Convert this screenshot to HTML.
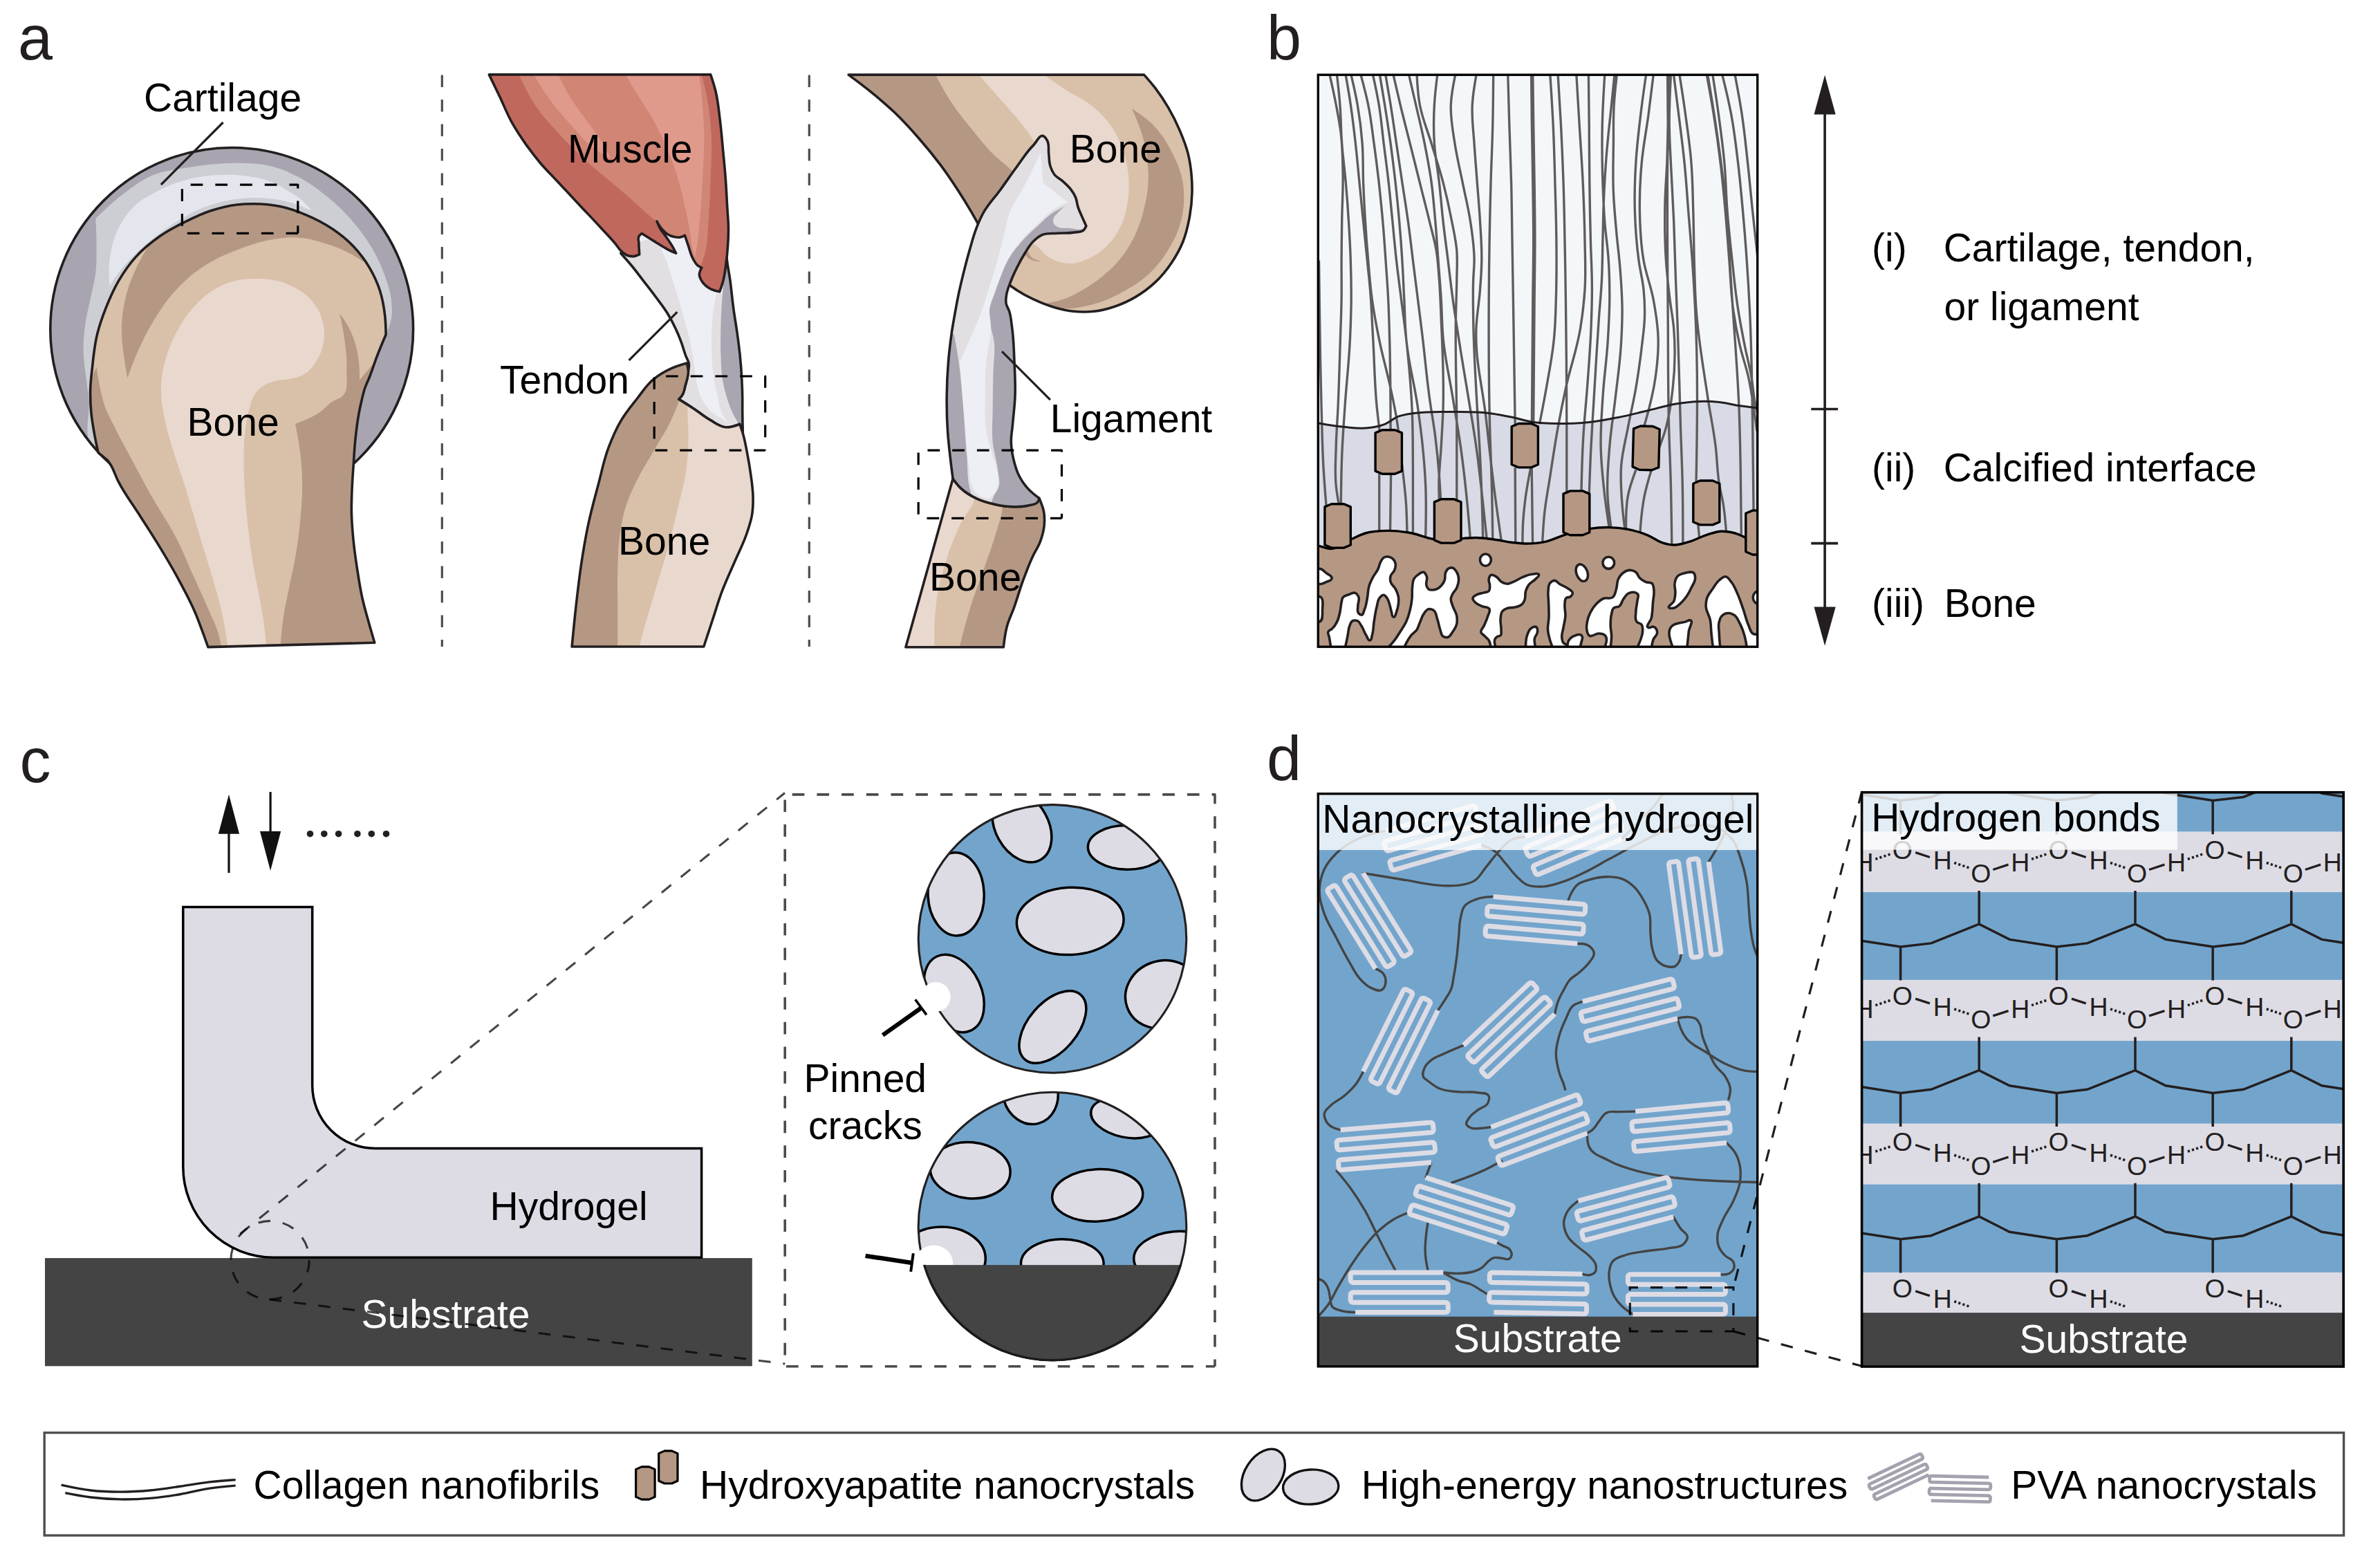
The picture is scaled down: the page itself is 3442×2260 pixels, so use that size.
<!DOCTYPE html>
<html><head><meta charset="utf-8"><title>Figure</title>
<style>
html,body{margin:0;padding:0;background:#fff;}
svg{display:block;}
text{font-family:"Liberation Sans",Arial,Helvetica,sans-serif;}
</style></head><body>
<svg width="3442" height="2260" viewBox="0 0 3442 2260">
<rect width="3442" height="2260" fill="#fff"/>
<g id="panel_a1">
<clipPath id="cartclip"><circle cx="335.2" cy="475.9" r="262.4"/></clipPath>
<clipPath id="boneclip1"><path d="M300.9 935.6 C298.9 930 296.9 924.3 294.6 918 C290.2 906.1 287 896.8 282 885.2 C274.8 868.4 267.9 855.9 259.3 839.8 C249.9 822.2 241.9 808.9 231.6 791.9 C221 774.4 212.2 761.3 201.3 744 C190.4 726.8 180.4 714.2 171.1 696.1 C166.7 687.6 165 680.2 160 672 C158.6 669.8 157.3 667.8 156 665.9 L142.1 654.5 C140.4 646.9 138.7 639.2 137.1 630.6 C134.9 618.9 133.2 609.7 132 597.8 C130.7 584.2 130.2 573.6 130.8 560 C131.2 550.2 132.2 542.7 133.3 533 C135.3 514.7 136.3 500.3 140.8 482.5 C144.3 468.6 148.1 458 153.4 444.7 C159 430.7 163.5 419.9 171.1 406.9 C179 393.4 185.8 383.2 196.3 371.6 C207.5 359.2 217.8 350.9 231.6 341.3 C243.6 333 253.8 327.7 266.9 321.2 C280.2 314.6 290.6 309.4 304.7 304.8 C318 300.5 328.6 297.7 342.5 296 C351.5 294.9 358.6 294.6 367.7 294.7 C381.4 294.8 392.1 295.7 405.5 298.5 C419.6 301.5 430.2 305.5 443.4 311.1 C457.6 317.1 468.4 322.6 481.2 331.3 C492.9 339.3 501.7 346.2 511.4 356.5 C520.7 366.4 527.2 375 534.1 386.7 C540.7 397.9 545.1 407.2 549.2 419.5 C553.5 432.7 555.3 443.5 556.8 457.3 C557.8 466.8 558 475.3 558.1 483.8 C553.5 494.6 548.9 505.4 544.2 517.8 C540.4 527.9 538.1 536 534.1 546 C531.9 551.4 529.7 555.5 527.8 561 C525.6 567.3 524.6 572.5 523 579 C521.4 585.7 520.3 591 519 597.8 C516.5 611.3 515.3 621.9 513.9 635.6 C512.6 647.8 512.2 657.4 511.4 669.7 C510.4 684.7 509.4 696.3 508.9 711.3 C508.5 722.2 508.2 730.6 508.4 741.5 C508.7 755.1 509.6 765.7 510.9 779.3 C512.4 794.8 514.1 806.8 516.5 822.2 C518.9 837.7 520.6 849.7 524 865 C527.1 878.8 530.3 889.3 534.1 902.9 C536.8 912.4 539.2 920.9 541.7 929.3 L300.9 935.6Z"/></clipPath>
<circle cx="335.2" cy="475.9" r="262.4" fill="#a9a5b0"/>
<g clip-path="url(#cartclip)">
<path d="M138.3 316.1 C151.5 303.3 164.6 290.5 181.2 278.3 C195 268.2 205.7 259.6 221.5 253.1 C237 246.8 250.4 245.9 266.9 243 C284.9 239.8 299.1 237.9 317.3 236.7 C330.9 235.8 341.5 235.3 355.1 236 C368.8 236.7 379.6 237.2 392.9 240.5 C407.2 244.1 417.8 248.8 430.8 255.6 C445.3 263.1 455.7 270.7 468.6 280.8 C483.3 292.3 494 302.2 506.4 316.1 C518.5 329.6 527.3 340.9 536.6 356.5 C545.3 371.1 551.2 383.2 556.8 399.3 C560.8 410.8 564.1 420 565.6 432.1 C566.9 442.9 567.6 451.6 565.6 462.3 C564 470.4 561.1 477.2 558.1 484 C539.9 496.2 521.7 508.5 500 520 C465.7 538.1 436 545.6 400 560 C364 574.4 336 585.6 300 600 C264 614.4 237.6 630.7 200 640 C178.7 645.3 159.1 660.7 140 650 C115.8 636.5 132 601.4 128.2 574 C126.8 563.8 125.7 555.8 124.5 545.6 C122.9 532 120.9 521.4 120.7 507.7 C120.5 494.1 121.4 483.4 123.2 469.9 C125 456.1 128.1 445.7 130.8 432.1 C133.5 418.5 136.7 408.1 138.3 394.3 C139.9 380.8 139.6 370.1 139.6 356.5 C139.6 341.9 139 329 138.3 316.1Z" fill="#cdced3"/>
<path d="M158.5 413.2 C157.7 401.4 157 389.7 158.5 376.6 C160.2 361.7 162.7 350 168.6 336.3 C174.6 322.4 180.8 311.9 191.3 301 C202.7 289.2 214.6 283.3 229.1 275.8 C242.1 269.1 252.8 264.7 266.9 260.7 C284.5 255.7 299 253.9 317.3 253.1 C330.9 252.5 341.6 252.6 355.1 254.4 C369 256.2 380 257.9 392.9 263.2 C402.5 267.1 409.3 271.6 418.1 277.1 C425.6 281.7 431.8 285 438.3 290.9 C443.3 295.4 447.1 300.1 450.9 304.8 C440.6 300.2 430.3 295.5 418.1 292.2 C400.5 287.4 386 285.8 367.7 285.9 C354 286 343.3 287.1 329.9 289.7 C316 292.4 305.3 295.6 292.1 301 C277.8 306.8 267.4 313 254.3 321.2 C240 330.1 229.5 338.1 216.5 348.9 C207.1 356.7 199.8 362.8 191.3 371.6 C184.6 378.5 179.6 384.2 173.6 391.8 C167.8 399.2 163.1 406.2 158.5 413.2Z" fill="#e4e6ee"/>
</g>
<circle cx="335.2" cy="475.9" r="262.4" fill="none" stroke="#231f20" stroke-width="3.6"/>
<path d="M300.9 935.6 C298.9 930 296.9 924.3 294.6 918 C290.2 906.1 287 896.8 282 885.2 C274.8 868.4 267.9 855.9 259.3 839.8 C249.9 822.2 241.9 808.9 231.6 791.9 C221 774.4 212.2 761.3 201.3 744 C190.4 726.8 180.4 714.2 171.1 696.1 C166.7 687.6 165 680.2 160 672 C158.6 669.8 157.3 667.8 156 665.9 L142.1 654.5 C140.4 646.9 138.7 639.2 137.1 630.6 C134.9 618.9 133.2 609.7 132 597.8 C130.7 584.2 130.2 573.6 130.8 560 C131.2 550.2 132.2 542.7 133.3 533 C135.3 514.7 136.3 500.3 140.8 482.5 C144.3 468.6 148.1 458 153.4 444.7 C159 430.7 163.5 419.9 171.1 406.9 C179 393.4 185.8 383.2 196.3 371.6 C207.5 359.2 217.8 350.9 231.6 341.3 C243.6 333 253.8 327.7 266.9 321.2 C280.2 314.6 290.6 309.4 304.7 304.8 C318 300.5 328.6 297.7 342.5 296 C351.5 294.9 358.6 294.6 367.7 294.7 C381.4 294.8 392.1 295.7 405.5 298.5 C419.6 301.5 430.2 305.5 443.4 311.1 C457.6 317.1 468.4 322.6 481.2 331.3 C492.9 339.3 501.7 346.2 511.4 356.5 C520.7 366.4 527.2 375 534.1 386.7 C540.7 397.9 545.1 407.2 549.2 419.5 C553.5 432.7 555.3 443.5 556.8 457.3 C557.8 466.8 558 475.3 558.1 483.8 C553.5 494.6 548.9 505.4 544.2 517.8 C540.4 527.9 538.1 536 534.1 546 C531.9 551.4 529.7 555.5 527.8 561 C525.6 567.3 524.6 572.5 523 579 C521.4 585.7 520.3 591 519 597.8 C516.5 611.3 515.3 621.9 513.9 635.6 C512.6 647.8 512.2 657.4 511.4 669.7 C510.4 684.7 509.4 696.3 508.9 711.3 C508.5 722.2 508.2 730.6 508.4 741.5 C508.7 755.1 509.6 765.7 510.9 779.3 C512.4 794.8 514.1 806.8 516.5 822.2 C518.9 837.7 520.6 849.7 524 865 C527.1 878.8 530.3 889.3 534.1 902.9 C536.8 912.4 539.2 920.9 541.7 929.3 L300.9 935.6Z" fill="#d9c0a9"/>
<g clip-path="url(#boneclip1)">
<path d="M221.5 345 C212.7 358.7 203.8 372.5 196.3 389.2 C189.6 404.1 184.9 416.1 181.2 432.1 C177.1 449.9 175.8 464.3 176.1 482.5 C176.3 496.2 178 506.7 179.9 520.3 C181.2 529.9 182.7 538.3 184.2 546.8 C187.9 536.6 191.5 526.5 196.3 515.3 C204.3 496.6 211 482.2 221.5 464.9 C232 447.7 240.6 434.3 254.3 419.5 C266.5 406.3 277.2 396.8 292.1 386.7 C308.9 375.3 323.6 368.9 342.5 361.5 C360.1 354.6 374.2 349.6 392.9 346.4 C406.4 344.1 417.1 342.5 430.8 343.4 C444.7 344.3 455.3 347.4 468.6 351.4 C480.7 355 490 358.4 501.3 364 C510.2 368.4 517.6 373.2 525 378 C531.2 373 537.4 368 540 360 C546.3 340.6 516.4 332.1 500 320 C480.6 305.6 463 297.3 440 290 C414.7 282 393.5 279.7 367 280 C342.6 280.3 323.1 282.3 300 290 C280.9 296.4 265.9 302.6 250 315 C238.3 324.2 229.9 334.6 221.5 345Z" fill="#b59884"/>
<path d="M491.3 453.5 C494.1 466.7 497 480 498.8 495.1 C500.4 508.6 502 519.3 501.3 532.9 C500.5 547.9 505.5 564.6 493.8 574 C489.9 577.2 485.5 577.6 481.2 580.2 C474.1 584.6 470.4 590.5 463.5 595.3 C451.6 603.7 439.3 608.3 427 612.9 C429.3 624.2 431.6 635.4 433.3 648.2 C435.7 666.3 436.9 680.5 437.1 698.7 C437.3 716.9 436.1 731 434.5 749.1 C432.9 767.3 431.1 781.5 428.2 799.5 C425.2 817.8 421.7 831.8 418.1 849.9 C415.4 863.5 412.8 874 410.6 887.7 C407.9 904.6 406.7 919.8 405.5 935 L560 935 C575 857.1 590 779.1 560 700 C551.4 677.4 534.2 663.8 530 640 C522.7 598.5 546.4 564.2 570 530 L537.9 527.9 L520.2 549.3 C520 535.8 519.8 522.4 516.5 507.7 C514 496.5 511.4 487.8 506.4 477.5 C502 468.3 496.6 460.9 491.3 453.5Z" fill="#b59884"/>
<path d="M139.6 530.4 C141 539.9 142.4 549.4 144.6 560 C146.5 569.1 147.9 576.3 150.9 585.2 C155 597.5 160.3 606.3 166 618 C174.5 635.5 182.1 648.7 191.3 665.9 C202 685.9 210.3 701.5 221.5 721.3 C233 741.5 243.6 756.2 254.3 776.8 C264.4 796.3 270.5 812.3 279.5 832.3 C287.7 850.4 294.3 864.4 302.2 882.7 C306.8 893.5 311.3 901.7 314.8 912.9 C317.8 922.5 319.5 931.2 321.1 940 L290 940 C278.6 907.4 267.1 874.8 250 840 C231.5 802.3 213.2 775 190 740 C172.9 714.2 153 698.1 140 670 C129 646.2 120 626.2 120 600 C120 574 129.8 552.2 139.6 530.4Z" fill="#b59884"/>
<path d="M367.7 403.1 C349.1 403.5 334 406.3 317.3 414.5 C301.7 422.2 291.2 431.8 279.5 444.7 C268.5 456.8 261.8 468 254.3 482.5 C247.6 495.5 243.1 506.2 239.2 520.3 C234.9 536 232.9 548.7 232.9 565 C232.9 581.5 235.9 594.2 239.2 610.4 C242.6 627 246.9 639.6 251.8 655.8 C256.8 672.3 261.7 684.8 266.9 701.2 C272.6 719.3 276.6 733.5 282 751.6 C287.4 769.7 291.6 783.9 297.1 802 C302.6 820.1 307.3 834.1 312.3 852.4 C316.2 866.9 319.4 878.1 322.4 892.8 C325.9 909.6 327.9 924.8 329.9 940 L385.4 940 C384.5 927.3 383.5 914.5 381.6 900.3 C380.1 889.4 378.4 881 376.5 870.1 C373.6 853.7 370.5 841.1 367.7 824.7 C364.6 806.6 362.5 792.5 360.2 774.3 C357.9 756.2 356.5 742.1 355.1 723.9 C353.7 705.7 352.7 691.6 352.6 673.4 C352.5 658 352.3 645.9 353.9 630.6 C355.3 616.9 356.3 606 360.2 592.8 C363 583.4 364.1 575.2 370.2 567.6 C374.3 562.5 378.3 559.2 384 556 C389.3 553 394.1 551.9 400 550.5 C406.4 549 411.7 549.5 418.1 548.1 C426.5 546.3 433.6 545.2 440.8 540.5 C448.9 535.3 453.5 528.6 458.5 520.3 C464.4 510.5 467.4 501.5 468.6 490.1 C469.6 480.1 468.8 471.9 466 462.3 C462.5 450.2 457 441.3 448.4 432.1 C439.5 422.5 430.1 417.2 418.1 411.9 C401.3 404.5 386.1 402.7 367.7 403.1Z" fill="#e9d8cd"/>
</g>
<path d="M300.9 935.6 C298.9 930 296.9 924.3 294.6 918 C290.2 906.1 287 896.8 282 885.2 C274.8 868.4 267.9 855.9 259.3 839.8 C249.9 822.2 241.9 808.9 231.6 791.9 C221 774.4 212.2 761.3 201.3 744 C190.4 726.8 180.4 714.2 171.1 696.1 C166.7 687.6 165 680.2 160 672 C158.6 669.8 157.3 667.8 156 665.9 L142.1 654.5 C140.4 646.9 138.7 639.2 137.1 630.6 C134.9 618.9 133.2 609.7 132 597.8 C130.7 584.2 130.2 573.6 130.8 560 C131.2 550.2 132.2 542.7 133.3 533 C135.3 514.7 136.3 500.3 140.8 482.5 C144.3 468.6 148.1 458 153.4 444.7 C159 430.7 163.5 419.9 171.1 406.9 C179 393.4 185.8 383.2 196.3 371.6 C207.5 359.2 217.8 350.9 231.6 341.3 C243.6 333 253.8 327.7 266.9 321.2 C280.2 314.6 290.6 309.4 304.7 304.8 C318 300.5 328.6 297.7 342.5 296 C351.5 294.9 358.6 294.6 367.7 294.7 C381.4 294.8 392.1 295.7 405.5 298.5 C419.6 301.5 430.2 305.5 443.4 311.1 C457.6 317.1 468.4 322.6 481.2 331.3 C492.9 339.3 501.7 346.2 511.4 356.5 C520.7 366.4 527.2 375 534.1 386.7 C540.7 397.9 545.1 407.2 549.2 419.5 C553.5 432.7 555.3 443.5 556.8 457.3 C557.8 466.8 558 475.3 558.1 483.8 C553.5 494.6 548.9 505.4 544.2 517.8 C540.4 527.9 538.1 536 534.1 546 C531.9 551.4 529.7 555.5 527.8 561 C525.6 567.3 524.6 572.5 523 579 C521.4 585.7 520.3 591 519 597.8 C516.5 611.3 515.3 621.9 513.9 635.6 C512.6 647.8 512.2 657.4 511.4 669.7 C510.4 684.7 509.4 696.3 508.9 711.3 C508.5 722.2 508.2 730.6 508.4 741.5 C508.7 755.1 509.6 765.7 510.9 779.3 C512.4 794.8 514.1 806.8 516.5 822.2 C518.9 837.7 520.6 849.7 524 865 C527.1 878.8 530.3 889.3 534.1 902.9 C536.8 912.4 539.2 920.9 541.7 929.3 L300.9 935.6Z" fill="none" stroke="#231f20" stroke-width="3.6" stroke-linejoin="round"/>
<path d="M263.4 267.2 H430.8 V337.3" fill="none" stroke="#000" stroke-width="3.2" stroke-dasharray="17.7 18" stroke-dashoffset="23.4" stroke-linejoin="round"/><path d="M263.4 267.2 V337.3 H430.8" fill="none" stroke="#000" stroke-width="3.2" stroke-dasharray="17.7 18" stroke-dashoffset="29.6" stroke-linejoin="round"/>
<line x1="322.6" y1="177" x2="232.9" y2="267" stroke="#231f20" stroke-width="3.2"/>
<text x="208" y="161" font-size="57" fill="#000" text-anchor="start" >Cartilage</text>
<text x="270.5" y="630.3" font-size="57" fill="#000" text-anchor="start" >Bone</text>
</g>
<g id="panel_a2">
<line x1="639.3" y1="108.5" x2="639.3" y2="935" stroke="#4d4d4d" stroke-width="3.2" stroke-dasharray="17.6 17.9"/>
<line x1="1170.3" y1="108.5" x2="1170.3" y2="935" stroke="#4d4d4d" stroke-width="3.2" stroke-dasharray="17.6 17.9"/>
<clipPath id="tendclip"><path d="M897.8 366.2 C903.3 372.3 908.8 378.4 914.6 385.5 C920.9 393.2 925.4 399.5 931.5 407.4 C937.6 415.3 942.4 421.3 948.3 429.3 C954.5 437.7 959.6 443.9 965.1 452.8 C969.8 460.4 973.1 466.6 976.9 474.7 C980.3 481.8 982.6 487.5 985.3 494.9 C988 502.1 989.2 508 992 515.1 C993.4 518.8 995.5 521.3 996.2 525.2 C996.9 529.4 995.9 532.8 995.4 537 C994.5 544.4 993.2 550 991.2 557.2 C989.7 562.7 989.5 567.7 986.1 572.3 C984.7 574.2 983.2 575.7 981.6 577.1 C988.7 581.5 995.8 586 1003.7 591.2 C1012.3 596.9 1018.2 602.4 1027.2 607.4 C1034.8 611.7 1040.6 616.9 1049.3 617.7 C1056.9 618.4 1063.4 615.8 1069.9 613.3 L1074.3 626 C1074 615.4 1073.8 604.9 1073.7 593 C1073.7 586.2 1073.8 580.8 1073.7 574 C1073.6 564.9 1073.3 557.9 1072.8 548.8 C1072.2 536.7 1071.5 527.2 1070.3 515.1 C1069.1 503 1067.8 493.6 1066.1 481.5 C1064.4 469.3 1062.7 460 1061 447.8 C1058.9 432.7 1058 420.8 1056 405.7 C1054.3 393 1051.6 383.2 1050.9 370.4 C1050.1 355.9 1051.5 342.9 1052.9 330 L955 325 L926 332 L897.8 366.2Z"/></clipPath>
<path d="M897.8 366.2 C903.3 372.3 908.8 378.4 914.6 385.5 C920.9 393.2 925.4 399.5 931.5 407.4 C937.6 415.3 942.4 421.3 948.3 429.3 C954.5 437.7 959.6 443.9 965.1 452.8 C969.8 460.4 973.1 466.6 976.9 474.7 C980.3 481.8 982.6 487.5 985.3 494.9 C988 502.1 989.2 508 992 515.1 C993.4 518.8 995.5 521.3 996.2 525.2 C996.9 529.4 995.9 532.8 995.4 537 C994.5 544.4 993.2 550 991.2 557.2 C989.7 562.7 989.5 567.7 986.1 572.3 C984.7 574.2 983.2 575.7 981.6 577.1 C988.7 581.5 995.8 586 1003.7 591.2 C1012.3 596.9 1018.2 602.4 1027.2 607.4 C1034.8 611.7 1040.6 616.9 1049.3 617.7 C1056.9 618.4 1063.4 615.8 1069.9 613.3 L1074.3 626 C1074 615.4 1073.8 604.9 1073.7 593 C1073.7 586.2 1073.8 580.8 1073.7 574 C1073.6 564.9 1073.3 557.9 1072.8 548.8 C1072.2 536.7 1071.5 527.2 1070.3 515.1 C1069.1 503 1067.8 493.6 1066.1 481.5 C1064.4 469.3 1062.7 460 1061 447.8 C1058.9 432.7 1058 420.8 1056 405.7 C1054.3 393 1051.6 383.2 1050.9 370.4 C1050.1 355.9 1051.5 342.9 1052.9 330 L955 325 L926 332 L897.8 366.2Z" fill="#eeeff5"/>
<g clip-path="url(#tendclip)">
<path d="M890 360 L956.7 340 C956.2 346 955.6 352 956.7 358.6 C958.1 366.9 962.3 372.5 965.1 380.5 C968.5 390.1 970.5 397.7 973.5 407.4 C976.5 417.1 979 424.6 981.9 434.3 C985.1 445.2 987.4 453.7 990.4 464.6 C992.9 473.7 995 480.7 997.1 489.9 C999.2 498.9 1000.6 506 1002.1 515.1 C1003.6 524.2 1004 531.3 1005.5 540.4 C1007 549.5 1007.4 556.9 1010.5 565.6 C1013.2 573.3 1015.8 579.2 1020.6 585.8 C1024.1 590.7 1027.4 594.1 1032 598 C1037.2 602.4 1043 603.4 1048 608 C1053.5 613.1 1056.7 619 1060 625 L980 625 C975.3 604 970.6 583.1 975 560 C977.9 544.9 988.6 535.3 990 520 C992.4 492.7 974.4 473.4 960 450 C947.9 430.4 934.1 418.2 920 400 C909 385.7 899.5 372.9 890 360Z" fill="#e1dfe2"/>
<path d="M1036 424.2 C1034 434.4 1031.9 444.6 1030.7 456.2 C1029.4 468.3 1029.2 477.8 1029.1 489.9 C1029 502 1029.1 511.4 1029.9 523.5 C1030.5 532.6 1031 539.8 1032.4 548.8 C1033.8 557.3 1035.6 563.9 1037.5 572.3 C1039.2 579.8 1039.9 585.8 1042.5 593 C1045.1 600.2 1048.6 606.1 1052 612 L1075 625 L1075 424 L1036 424.2Z" fill="#e1dfe2"/>
<path d="M1050.9 372 C1049.1 385.5 1047.3 398.9 1045.9 414.1 C1044.8 426.2 1044.1 435.7 1043.4 447.8 C1042.7 459.9 1042.4 469.4 1042.2 481.5 C1042 493.6 1042 503 1042.5 515.1 C1043 527.3 1043 536.8 1045 548.8 C1046.5 558 1048.2 565.1 1050.9 574 C1053 581 1054.8 586.3 1057.7 593 C1061.1 600.9 1065.1 607.4 1069 614 L1080 630 L1080 372 L1050.9 372Z" fill="#aaa6b1"/>
</g>
<path d="M897.8 366.2 C903.3 372.3 908.8 378.4 914.6 385.5 C920.9 393.2 925.4 399.5 931.5 407.4 C937.6 415.3 942.4 421.3 948.3 429.3 C954.5 437.7 959.6 443.9 965.1 452.8 C969.8 460.4 973.1 466.6 976.9 474.7 C980.3 481.8 982.6 487.5 985.3 494.9 C988 502.1 989.2 508 992 515.1 C993.4 518.8 995.5 521.3 996.2 525.2 C996.9 529.4 995.9 532.8 995.4 537 C994.5 544.4 993.2 550 991.2 557.2 C989.7 562.7 989.5 567.7 986.1 572.3 C984.7 574.2 983.2 575.7 981.6 577.1 C988.7 581.5 995.8 586 1003.7 591.2 C1012.3 596.9 1018.2 602.4 1027.2 607.4 C1034.8 611.7 1040.6 616.9 1049.3 617.7 C1056.9 618.4 1063.4 615.8 1069.9 613.3 L1074.3 626 C1074 615.4 1073.8 604.9 1073.7 593 C1073.7 586.2 1073.8 580.8 1073.7 574 C1073.6 564.9 1073.3 557.9 1072.8 548.8 C1072.2 536.7 1071.5 527.2 1070.3 515.1 C1069.1 503 1067.8 493.6 1066.1 481.5 C1064.4 469.3 1062.7 460 1061 447.8 C1058.9 432.7 1058 420.8 1056 405.7 C1054.3 393 1051.6 383.2 1050.9 370.4 C1050.1 355.9 1051.5 342.9 1052.9 330 L955 325 L926 332 L897.8 366.2Z" fill="none" stroke="#231f20" stroke-width="3.6" stroke-linejoin="round"/>
<clipPath id="musclip"><path d="M707.3 107.9 C712 117.6 716.7 127.3 722 138.3 C728.9 152.6 733.1 164.4 740.9 178.2 C747.1 189.2 752.6 197.3 759.8 207.6 C766.9 217.8 772.8 225.5 780.8 235 C789.4 245.3 797 252.5 806.1 262.3 C817.4 274.4 826.3 283.8 837.6 295.9 C848.9 308 857.9 317.3 869.1 329.5 C876.7 337.8 882.9 344 890.1 352.6 C893.2 356.3 894.9 359.9 898.5 363.1 C901.5 365.8 904 368.2 907.9 369.5 C911.4 370.7 914.4 371 918 370.4 C920.5 370 922.6 368.9 924.7 367.9 C924.4 362.8 924 357.7 923.9 351.9 C923.8 348.3 922.2 345 923.9 341.8 C924.9 339.9 926.5 338.8 928.1 337.6 C934.5 341.7 941 345.7 948.3 350.2 C954.3 353.9 958.8 357 965.1 360.3 C969.5 362.6 973.6 364.4 977.7 366.2 C975.9 362.6 974.1 359.1 971.8 355.2 C968.5 349.6 965.5 345.5 961.7 340.1 C959.3 336.7 957.1 334.4 955 330.8 C952.8 327.1 951.4 323.6 950 320 C952 323.7 953.9 327.4 957 331 C959.6 334 961.8 336.3 965.1 338.4 C968.4 340.5 971.3 341.8 975.2 342.6 C978.2 343.2 980.6 343.6 983.6 343.1 C986.2 342.6 988.3 341.5 990.4 340.4 C992 345.1 993.6 349.9 995.4 355.2 C997.7 361.9 998.7 367.6 1002.1 373.8 C1004.2 377.6 1005.5 381 1008.9 383.8 C1010.8 385.3 1012.8 386.3 1014.8 387.2 C1013 390.3 1011.3 393.5 1011.4 397.3 C1011.5 401.2 1013.4 404.1 1015.6 407.4 C1018.3 411.5 1021.5 414.1 1025.7 416.7 C1030.6 419.7 1035.7 420.7 1040.8 421.7 C1042.6 416.6 1044.4 411.6 1045.9 405.7 C1048.2 396.8 1048.9 389.6 1050.1 380.5 C1051.3 371.4 1052 364.3 1052.6 355.2 C1053.2 346.7 1053.5 340.1 1053.5 331.6 C1053.5 320.2 1052.4 311.4 1051.8 300 C1050.9 284.9 1050.4 273.1 1049.3 258 C1048.2 242.9 1046.9 231.1 1045.5 216 C1044.1 200.9 1043.2 189.1 1041.3 174 C1039.4 158.8 1038.6 146.9 1035 132 C1032.8 123.2 1030.3 115.5 1027.7 107.9 L707.3 107.9Z"/></clipPath>
<path d="M707.3 107.9 C712 117.6 716.7 127.3 722 138.3 C728.9 152.6 733.1 164.4 740.9 178.2 C747.1 189.2 752.6 197.3 759.8 207.6 C766.9 217.8 772.8 225.5 780.8 235 C789.4 245.3 797 252.5 806.1 262.3 C817.4 274.4 826.3 283.8 837.6 295.9 C848.9 308 857.9 317.3 869.1 329.5 C876.7 337.8 882.9 344 890.1 352.6 C893.2 356.3 894.9 359.9 898.5 363.1 C901.5 365.8 904 368.2 907.9 369.5 C911.4 370.7 914.4 371 918 370.4 C920.5 370 922.6 368.9 924.7 367.9 C924.4 362.8 924 357.7 923.9 351.9 C923.8 348.3 922.2 345 923.9 341.8 C924.9 339.9 926.5 338.8 928.1 337.6 C934.5 341.7 941 345.7 948.3 350.2 C954.3 353.9 958.8 357 965.1 360.3 C969.5 362.6 973.6 364.4 977.7 366.2 C975.9 362.6 974.1 359.1 971.8 355.2 C968.5 349.6 965.5 345.5 961.7 340.1 C959.3 336.7 957.1 334.4 955 330.8 C952.8 327.1 951.4 323.6 950 320 C952 323.7 953.9 327.4 957 331 C959.6 334 961.8 336.3 965.1 338.4 C968.4 340.5 971.3 341.8 975.2 342.6 C978.2 343.2 980.6 343.6 983.6 343.1 C986.2 342.6 988.3 341.5 990.4 340.4 C992 345.1 993.6 349.9 995.4 355.2 C997.7 361.9 998.7 367.6 1002.1 373.8 C1004.2 377.6 1005.5 381 1008.9 383.8 C1010.8 385.3 1012.8 386.3 1014.8 387.2 C1013 390.3 1011.3 393.5 1011.4 397.3 C1011.5 401.2 1013.4 404.1 1015.6 407.4 C1018.3 411.5 1021.5 414.1 1025.7 416.7 C1030.6 419.7 1035.7 420.7 1040.8 421.7 C1042.6 416.6 1044.4 411.6 1045.9 405.7 C1048.2 396.8 1048.9 389.6 1050.1 380.5 C1051.3 371.4 1052 364.3 1052.6 355.2 C1053.2 346.7 1053.5 340.1 1053.5 331.6 C1053.5 320.2 1052.4 311.4 1051.8 300 C1050.9 284.9 1050.4 273.1 1049.3 258 C1048.2 242.9 1046.9 231.1 1045.5 216 C1044.1 200.9 1043.2 189.1 1041.3 174 C1039.4 158.8 1038.6 146.9 1035 132 C1032.8 123.2 1030.3 115.5 1027.7 107.9 L707.3 107.9Z" fill="#c1685e"/>
<g clip-path="url(#musclip)">
<path d="M749.3 105 C756.4 120.9 763.6 136.8 774.5 153 C784.4 167.7 794.2 177.7 806.1 190.8 C820.5 206.7 832.3 218.4 848.1 232.9 C862.7 246.3 875.1 255.7 890.1 268.6 C901.5 278.4 910.4 285.9 921.6 295.9 C929.2 302.6 934.6 308.5 942.6 314.8 C945.6 317.1 948.3 319.1 951 321.1 C953.3 326 955.7 330.9 960 335 C967 341.7 975.6 347.3 985 345 C987.7 344.3 989.8 343.2 992 342 C992.7 355 993.3 368 1003 377 C1006.4 380.2 1010.2 382.2 1014 384.1 C1016.3 377.4 1018.5 370.8 1020.3 363.1 C1023.7 348.3 1023.3 336.2 1024.5 321.1 C1026.3 298.5 1026.9 280.8 1027.7 258.1 C1028.5 235.4 1029.9 217.7 1028.7 195 C1027.9 179.8 1026.8 168 1024.5 153 C1021.8 135.5 1017.9 120.3 1014 105 L749.3 105Z" fill="#d08575"/>
<path d="M770.3 105 C777.9 118 785.5 130.9 795.5 144.6 C805.9 158.9 815.1 169.3 827.1 182.4 C838 194.2 845.8 204.2 858.6 213.9 C867.1 220.3 875.5 224.9 883.8 229.5 C879.3 221 874.8 212.5 869.1 203.4 C862.2 192.4 855.7 184.6 848.1 174 C840.5 163.4 834 155.6 827.1 144.6 C818.5 130.9 812.3 118 806.1 105 L770.3 105Z" fill="#e09a8c"/>
<path d="M902.7 105 C908.7 115 914.7 125 921.6 136.2 C929.1 148.4 935.6 157.4 942.6 169.8 C950.9 184.5 956.9 196.3 963.6 211.8 C970.6 228.1 975.3 241.1 980.4 258.1 C984.9 273 987.5 284.9 990.9 300.1 C993.4 311.4 995.2 320.2 997.2 331.6 C998.9 341.4 999.3 349.2 1001.4 358.9 C1002.4 363.6 1003.5 367.8 1004.6 372 C1005.3 369.2 1006 366.3 1006.7 363.1 C1009.9 348.2 1010.4 336.3 1011.9 321.1 C1014.2 298.5 1015 280.8 1016.1 258.1 C1017.2 235.4 1018.6 217.7 1018.2 195 C1017.9 179.9 1017.3 168.1 1016.1 153 C1014.8 135.7 1012.8 120.3 1010.9 105 L902.7 105Z" fill="#e09a8c"/>
</g>
<path d="M707.3 107.9 C712 117.6 716.7 127.3 722 138.3 C728.9 152.6 733.1 164.4 740.9 178.2 C747.1 189.2 752.6 197.3 759.8 207.6 C766.9 217.8 772.8 225.5 780.8 235 C789.4 245.3 797 252.5 806.1 262.3 C817.4 274.4 826.3 283.8 837.6 295.9 C848.9 308 857.9 317.3 869.1 329.5 C876.7 337.8 882.9 344 890.1 352.6 C893.2 356.3 894.9 359.9 898.5 363.1 C901.5 365.8 904 368.2 907.9 369.5 C911.4 370.7 914.4 371 918 370.4 C920.5 370 922.6 368.9 924.7 367.9 C924.4 362.8 924 357.7 923.9 351.9 C923.8 348.3 922.2 345 923.9 341.8 C924.9 339.9 926.5 338.8 928.1 337.6 C934.5 341.7 941 345.7 948.3 350.2 C954.3 353.9 958.8 357 965.1 360.3 C969.5 362.6 973.6 364.4 977.7 366.2 C975.9 362.6 974.1 359.1 971.8 355.2 C968.5 349.6 965.5 345.5 961.7 340.1 C959.3 336.7 957.1 334.4 955 330.8 C952.8 327.1 951.4 323.6 950 320 C952 323.7 953.9 327.4 957 331 C959.6 334 961.8 336.3 965.1 338.4 C968.4 340.5 971.3 341.8 975.2 342.6 C978.2 343.2 980.6 343.6 983.6 343.1 C986.2 342.6 988.3 341.5 990.4 340.4 C992 345.1 993.6 349.9 995.4 355.2 C997.7 361.9 998.7 367.6 1002.1 373.8 C1004.2 377.6 1005.5 381 1008.9 383.8 C1010.8 385.3 1012.8 386.3 1014.8 387.2 C1013 390.3 1011.3 393.5 1011.4 397.3 C1011.5 401.2 1013.4 404.1 1015.6 407.4 C1018.3 411.5 1021.5 414.1 1025.7 416.7 C1030.6 419.7 1035.7 420.7 1040.8 421.7 C1042.6 416.6 1044.4 411.6 1045.9 405.7 C1048.2 396.8 1048.9 389.6 1050.1 380.5 C1051.3 371.4 1052 364.3 1052.6 355.2 C1053.2 346.7 1053.5 340.1 1053.5 331.6 C1053.5 320.2 1052.4 311.4 1051.8 300 C1050.9 284.9 1050.4 273.1 1049.3 258 C1048.2 242.9 1046.9 231.1 1045.5 216 C1044.1 200.9 1043.2 189.1 1041.3 174 C1039.4 158.8 1038.6 146.9 1035 132 C1032.8 123.2 1030.3 115.5 1027.7 107.9 L707.3 107.9Z" fill="none" stroke="#231f20" stroke-width="3.6" stroke-linejoin="round"/>
<clipPath id="boneclip2"><path d="M993.4 525 C985.2 527.3 977 529.7 968.4 533.8 C959.4 538.1 952.5 542.2 944.8 548.6 C934.7 557 929.4 566.2 921.3 576.5 C912.4 587.8 905 596.5 897.7 608.9 C890 622 885.5 633 880.1 647.2 C873.1 665.7 870.5 681 865.4 700.1 C859.8 721.2 855.1 737.6 850.6 759 C846.1 780.1 843.5 796.6 840.3 817.9 C837.2 839 835.4 855.5 833 876.7 C830.6 897.7 828.9 916.3 827.1 935 L1017.8 935 C1021.8 922.9 1025.7 910.9 1030.2 897.3 C1035.5 881.4 1038.9 868.8 1044.9 853.2 C1050.7 838.1 1056.2 826.8 1062.6 812 C1069 797.2 1075.1 786.1 1080.2 770.8 C1083.3 761.4 1086 754.1 1087.6 744.3 C1089.1 734.9 1089.2 727.4 1089 717.8 C1088.8 707.2 1087.5 698.9 1086.1 688.4 C1084.4 675.6 1082.7 665.7 1080.2 653.1 C1078.3 643.5 1077.1 636 1074.3 626.6 C1072.9 621.8 1071.4 617.5 1069.9 613.3 C1063.4 615.8 1056.9 618.4 1049.3 617.7 C1040.6 616.9 1034.8 611.7 1027.2 607.4 C1018.2 602.4 1012.3 596.9 1003.7 591.2 C995.8 586 988.7 581.5 981.6 577.1 C983.2 575.7 984.7 574.2 986.1 572.3 C989.5 567.7 989.7 562.7 991.2 557.2 C993.2 550 995.6 544.4 995.4 537 C995.3 532.6 994.3 528.8 993.4 525Z"/></clipPath>
<path d="M993.4 525 C985.2 527.3 977 529.7 968.4 533.8 C959.4 538.1 952.5 542.2 944.8 548.6 C934.7 557 929.4 566.2 921.3 576.5 C912.4 587.8 905 596.5 897.7 608.9 C890 622 885.5 633 880.1 647.2 C873.1 665.7 870.5 681 865.4 700.1 C859.8 721.2 855.1 737.6 850.6 759 C846.1 780.1 843.5 796.6 840.3 817.9 C837.2 839 835.4 855.5 833 876.7 C830.6 897.7 828.9 916.3 827.1 935 L1017.8 935 C1021.8 922.9 1025.7 910.9 1030.2 897.3 C1035.5 881.4 1038.9 868.8 1044.9 853.2 C1050.7 838.1 1056.2 826.8 1062.6 812 C1069 797.2 1075.1 786.1 1080.2 770.8 C1083.3 761.4 1086 754.1 1087.6 744.3 C1089.1 734.9 1089.2 727.4 1089 717.8 C1088.8 707.2 1087.5 698.9 1086.1 688.4 C1084.4 675.6 1082.7 665.7 1080.2 653.1 C1078.3 643.5 1077.1 636 1074.3 626.6 C1072.9 621.8 1071.4 617.5 1069.9 613.3 C1063.4 615.8 1056.9 618.4 1049.3 617.7 C1040.6 616.9 1034.8 611.7 1027.2 607.4 C1018.2 602.4 1012.3 596.9 1003.7 591.2 C995.8 586 988.7 581.5 981.6 577.1 C983.2 575.7 984.7 574.2 986.1 572.3 C989.5 567.7 989.7 562.7 991.2 557.2 C993.2 550 995.6 544.4 995.4 537 C995.3 532.6 994.3 528.8 993.4 525Z" fill="#e9d8cd"/>
<g clip-path="url(#boneclip2)">
<path d="M1000 520 C997.3 541.8 994.7 563.6 994.3 588.3 C994 604.2 995.8 616.5 995.5 632.4 C995.2 650.5 994.5 664.6 991.9 682.5 C989.1 701.8 984.6 716.5 980.1 735.5 C975.1 756.7 971.2 773.3 965.4 794.3 C959.6 815.6 954.1 832 947.8 853.2 C942.5 871.2 938.3 885.2 933.1 903.2 C929.3 916.4 926.1 928.2 922.8 940 L820 940 L820 520 L1000 520Z" fill="#d9c0a9"/>
<path d="M1000 520 C994.8 539.7 989.7 559.5 981.6 580.9 C978.2 590 975.4 597.1 971.3 606 C963.2 623.7 954.4 636.2 944.8 653.1 C936.4 668 928.8 679 921.3 694.3 C914.7 707.7 909.6 718.2 905.1 732.5 C901.5 743.9 899.7 753.1 897.7 764.9 C894.1 785.9 894.1 802.6 893.3 823.8 C892.5 845 893.3 861.4 893.3 882.6 C893.3 903.3 893.3 921.6 893.3 940 L820 940 L820 520 L1000 520Z" fill="#b59884"/>
</g>
<path d="M993.4 525 C985.2 527.3 977 529.7 968.4 533.8 C959.4 538.1 952.5 542.2 944.8 548.6 C934.7 557 929.4 566.2 921.3 576.5 C912.4 587.8 905 596.5 897.7 608.9 C890 622 885.5 633 880.1 647.2 C873.1 665.7 870.5 681 865.4 700.1 C859.8 721.2 855.1 737.6 850.6 759 C846.1 780.1 843.5 796.6 840.3 817.9 C837.2 839 835.4 855.5 833 876.7 C830.6 897.7 828.9 916.3 827.1 935 L1017.8 935 C1021.8 922.9 1025.7 910.9 1030.2 897.3 C1035.5 881.4 1038.9 868.8 1044.9 853.2 C1050.7 838.1 1056.2 826.8 1062.6 812 C1069 797.2 1075.1 786.1 1080.2 770.8 C1083.3 761.4 1086 754.1 1087.6 744.3 C1089.1 734.9 1089.2 727.4 1089 717.8 C1088.8 707.2 1087.5 698.9 1086.1 688.4 C1084.4 675.6 1082.7 665.7 1080.2 653.1 C1078.3 643.5 1077.1 636 1074.3 626.6 C1072.9 621.8 1071.4 617.5 1069.9 613.3 C1063.4 615.8 1056.9 618.4 1049.3 617.7 C1040.6 616.9 1034.8 611.7 1027.2 607.4 C1018.2 602.4 1012.3 596.9 1003.7 591.2 C995.8 586 988.7 581.5 981.6 577.1 C983.2 575.7 984.7 574.2 986.1 572.3 C989.5 567.7 989.7 562.7 991.2 557.2 C993.2 550 995.6 544.4 995.4 537 C995.3 532.6 994.3 528.8 993.4 525Z" fill="none" stroke="#231f20" stroke-width="3.6" stroke-linejoin="round"/>
<path d="M946.2 544 H1106.7 V651.2" fill="none" stroke="#000" stroke-width="3.2" stroke-dasharray="17.7 18" stroke-dashoffset="18.9" stroke-linejoin="round"/><path d="M946.2 544 V651.2 H1106.7" fill="none" stroke="#000" stroke-width="3.2" stroke-dasharray="17.7 18" stroke-dashoffset="34.3" stroke-linejoin="round"/>
<line x1="979.4" y1="451.2" x2="909.6" y2="521" stroke="#231f20" stroke-width="3.2"/>
<text x="821" y="235" font-size="57" fill="#000" text-anchor="start" >Muscle</text>
<text x="723" y="569" font-size="57" fill="#000" text-anchor="start" >Tendon</text>
<text x="894" y="801.7" font-size="57" fill="#000" text-anchor="start" >Bone</text>
</g>
<g id="panel_a3">
<clipPath id="ubclip"><path d="M1227.1 108.1 C1237.4 115.7 1247.7 123.3 1258.9 132.4 C1272 143 1282.1 151.4 1294.2 163 C1307.6 175.9 1317.3 186.7 1329.5 200.7 C1341 213.9 1349.6 224.4 1360.1 238.4 C1369.9 251.6 1377.1 262.2 1386 276 C1393.1 286.9 1398.4 295.5 1404.9 306.7 C1408.8 313.4 1411.9 318.6 1415.5 325.5 C1419.1 332.4 1422.1 338.7 1425 345 L1459 411.4 C1462.7 414.1 1466.4 416.9 1470.8 419.7 C1478.9 425 1485.6 428.5 1494.4 432.6 C1505.1 437.6 1513.7 441.1 1525 444.4 C1535 447.3 1542.9 449.2 1553.2 450.3 C1563.3 451.3 1571.4 451.4 1581.5 450.3 C1592.7 449.1 1601.4 446.8 1612.1 443.2 C1623.6 439.3 1632.3 435.3 1642.7 429.1 C1653.7 422.6 1661.7 416.6 1671 407.9 C1680.6 398.8 1687.1 390.7 1694.5 379.7 C1701.5 369.3 1706.4 360.7 1711 349 C1715.9 336.8 1718 326.6 1720.4 313.7 C1722.7 301.1 1723.7 291.2 1724 278.4 C1724.2 269.9 1724 263.3 1723.3 254.8 C1722.3 242.8 1721 233.5 1718.1 221.9 C1715 209.7 1711.2 200.5 1706.3 188.9 C1701.1 176.7 1696.5 167.4 1689.8 155.9 C1683.6 145.4 1678.4 137.4 1671 127.7 C1665.4 120.4 1660 114.2 1654.5 108.1 L1227.1 108.1Z"/></clipPath>
<path d="M1227.1 108.1 C1237.4 115.7 1247.7 123.3 1258.9 132.4 C1272 143 1282.1 151.4 1294.2 163 C1307.6 175.9 1317.3 186.7 1329.5 200.7 C1341 213.9 1349.6 224.4 1360.1 238.4 C1369.9 251.6 1377.1 262.2 1386 276 C1393.1 286.9 1398.4 295.5 1404.9 306.7 C1408.8 313.4 1411.9 318.6 1415.5 325.5 C1419.1 332.4 1422.1 338.7 1425 345 L1459 411.4 C1462.7 414.1 1466.4 416.9 1470.8 419.7 C1478.9 425 1485.6 428.5 1494.4 432.6 C1505.1 437.6 1513.7 441.1 1525 444.4 C1535 447.3 1542.9 449.2 1553.2 450.3 C1563.3 451.3 1571.4 451.4 1581.5 450.3 C1592.7 449.1 1601.4 446.8 1612.1 443.2 C1623.6 439.3 1632.3 435.3 1642.7 429.1 C1653.7 422.6 1661.7 416.6 1671 407.9 C1680.6 398.8 1687.1 390.7 1694.5 379.7 C1701.5 369.3 1706.4 360.7 1711 349 C1715.9 336.8 1718 326.6 1720.4 313.7 C1722.7 301.1 1723.7 291.2 1724 278.4 C1724.2 269.9 1724 263.3 1723.3 254.8 C1722.3 242.8 1721 233.5 1718.1 221.9 C1715 209.7 1711.2 200.5 1706.3 188.9 C1701.1 176.7 1696.5 167.4 1689.8 155.9 C1683.6 145.4 1678.4 137.4 1671 127.7 C1665.4 120.4 1660 114.2 1654.5 108.1 L1227.1 108.1Z" fill="#d9c0a9"/>
<g clip-path="url(#ubclip)">
<path d="M1220 104 L1350.7 104 C1358.5 118.7 1366.2 133.4 1376.6 148.9 C1386.7 164 1395.8 174.8 1407.2 188.9 C1417.1 201 1424.4 210.8 1435.5 221.9 C1445.1 231.5 1453.9 237.4 1463.8 246.6 C1469.7 252.1 1474.9 257 1480 262 L1420 345 C1407.5 324 1395 303 1380 280 C1353.2 239 1334.2 205.1 1300 170 C1274 143.2 1247 123.6 1220 104Z" fill="#b59884"/>
<path d="M1411.9 104 C1423.3 116.8 1434.6 129.7 1447.3 144.2 C1458.4 156.9 1467.5 166.2 1477.9 179.5 C1485 188.6 1490.1 196 1496.7 205.4 C1501.6 212.4 1505.8 218.7 1510 225 C1499 248.5 1488 272 1480 300 C1475.5 316 1458.9 332.7 1470 345 C1476.8 352.5 1487.9 348.7 1496.7 353.7 C1505.6 358.8 1509 367.5 1517.9 372.6 C1525.7 377.1 1532.6 379.9 1541.5 380.8 C1552.7 381.9 1561.7 379.1 1572.1 374.9 C1583.4 370.4 1591.5 364.6 1600.3 356.1 C1609.9 346.8 1615.9 337.7 1621.5 325.5 C1627 313.6 1629.1 303.2 1631 290.2 C1632.8 277.6 1633.2 267.5 1632.1 254.8 C1630.9 241 1628.4 230.3 1623.9 217.2 C1618.9 202.9 1613.9 191.8 1605 179.5 C1596.5 167.9 1588.1 160.1 1576.8 151.2 C1565.1 142 1554 138 1541.5 130 C1527.6 121.1 1515.7 112.5 1503.8 104 L1411.9 104Z" fill="#e9d8cd"/>
<path d="M1636.8 157.1 C1648.6 164.9 1660.4 172.6 1671 184.2 C1681.3 195.5 1687.5 206 1694.5 219.5 C1700.8 231.7 1705.5 241.5 1708.7 254.8 C1711.7 267.3 1712.6 277.4 1712.2 290.2 C1711.8 303.1 1710.1 313.2 1706.3 325.5 C1702.2 338.9 1697.1 348.8 1689.8 360.8 C1681.3 374.7 1673.5 385 1661.6 396.1 C1649.6 407.3 1638.4 414.1 1623.9 422 C1607.8 430.7 1594.6 436.9 1576.8 440.9 C1560.2 444.6 1546.2 448.3 1529.7 444.4 C1523.6 443 1518.4 440.7 1513.2 438.5 C1520.1 437.3 1526.9 436.1 1534.4 433.8 C1546 430.2 1554.4 425.7 1565 419.7 C1576.7 413.1 1585.3 407.1 1595.6 398.5 C1605.7 390 1613.3 382.9 1621.5 372.6 C1630.7 361 1636.6 350.8 1642.7 337.3 C1648.2 325.1 1651.3 314.9 1654.5 301.9 C1657.6 289.4 1659.6 279.5 1660.4 266.6 C1661.2 253.9 1660.7 243.9 1659.2 231.3 C1657.7 218.4 1655.7 208.5 1652.1 196 C1647.9 181.5 1642.4 169.3 1636.8 157.1Z" fill="#b59884"/>
<path d="M1478 360 C1481 365.8 1484 371.6 1490 375 C1495.1 377.9 1500.6 377.9 1506 378 C1501.1 376.7 1496.3 375.4 1492 372 C1488.4 369.1 1488 364.2 1484 362 C1482 360.9 1480 360.4 1478 360Z" fill="#b59884"/>
</g>
<path d="M1227.1 108.1 C1237.4 115.7 1247.7 123.3 1258.9 132.4 C1272 143 1282.1 151.4 1294.2 163 C1307.6 175.9 1317.3 186.7 1329.5 200.7 C1341 213.9 1349.6 224.4 1360.1 238.4 C1369.9 251.6 1377.1 262.2 1386 276 C1393.1 286.9 1398.4 295.5 1404.9 306.7 C1408.8 313.4 1411.9 318.6 1415.5 325.5 C1419.1 332.4 1422.1 338.7 1425 345 L1459 411.4 C1462.7 414.1 1466.4 416.9 1470.8 419.7 C1478.9 425 1485.6 428.5 1494.4 432.6 C1505.1 437.6 1513.7 441.1 1525 444.4 C1535 447.3 1542.9 449.2 1553.2 450.3 C1563.3 451.3 1571.4 451.4 1581.5 450.3 C1592.7 449.1 1601.4 446.8 1612.1 443.2 C1623.6 439.3 1632.3 435.3 1642.7 429.1 C1653.7 422.6 1661.7 416.6 1671 407.9 C1680.6 398.8 1687.1 390.7 1694.5 379.7 C1701.5 369.3 1706.4 360.7 1711 349 C1715.9 336.8 1718 326.6 1720.4 313.7 C1722.7 301.1 1723.7 291.2 1724 278.4 C1724.2 269.9 1724 263.3 1723.3 254.8 C1722.3 242.8 1721 233.5 1718.1 221.9 C1715 209.7 1711.2 200.5 1706.3 188.9 C1701.1 176.7 1696.5 167.4 1689.8 155.9 C1683.6 145.4 1678.4 137.4 1671 127.7 C1665.4 120.4 1660 114.2 1654.5 108.1 L1227.1 108.1Z" fill="none" stroke="#231f20" stroke-width="3.6" stroke-linejoin="round"/>
<clipPath id="lbclip"><path d="M1378.1 692.2 L1309.9 935.7 L1451.3 935.7 C1452.4 926 1453.4 916.3 1456.3 905.7 C1459 895.8 1462.8 888.7 1466.3 879.1 C1471.4 864.8 1474.4 853.4 1479.6 839.2 C1484.1 827.1 1487.5 817.6 1492.9 805.9 C1496.8 797.4 1501.4 791.4 1504.6 782.6 C1507.5 774.5 1509.4 768 1510.2 759.4 C1510.8 752.2 1510.9 746.5 1509.5 739.4 C1508.4 733.8 1506.7 729.7 1504.6 724.4 C1504 722.9 1503.5 721.7 1502.9 720.4 C1498 724.6 1493 728.8 1486.3 731.1 C1479.5 733.4 1473.5 732.8 1466.3 732.7 C1456.7 732.6 1449.1 731.4 1439.7 729.4 C1429.9 727.3 1422.2 725.4 1413.1 721.1 C1404.1 716.9 1397.1 712.9 1389.8 706.1 C1385 701.6 1381.6 696.9 1378.1 692.2Z"/></clipPath>
<path d="M1378.1 692.2 L1309.9 935.7 L1451.3 935.7 C1452.4 926 1453.4 916.3 1456.3 905.7 C1459 895.8 1462.8 888.7 1466.3 879.1 C1471.4 864.8 1474.4 853.4 1479.6 839.2 C1484.1 827.1 1487.5 817.6 1492.9 805.9 C1496.8 797.4 1501.4 791.4 1504.6 782.6 C1507.5 774.5 1509.4 768 1510.2 759.4 C1510.8 752.2 1510.9 746.5 1509.5 739.4 C1508.4 733.8 1506.7 729.7 1504.6 724.4 C1504 722.9 1503.5 721.7 1502.9 720.4 C1498 724.6 1493 728.8 1486.3 731.1 C1479.5 733.4 1473.5 732.8 1466.3 732.7 C1456.7 732.6 1449.1 731.4 1439.7 729.4 C1429.9 727.3 1422.2 725.4 1413.1 721.1 C1404.1 716.9 1397.1 712.9 1389.8 706.1 C1385 701.6 1381.6 696.9 1378.1 692.2Z" fill="#d9c0a9"/>
<g clip-path="url(#lbclip)">
<path d="M1300 690 L1409.7 700 C1410.2 706.3 1410.8 712.5 1409.7 719.4 C1407.4 734.2 1396.3 742.5 1389.8 756 C1381.4 773.5 1375.9 787.5 1369.8 805.9 C1364 823.5 1359.8 837.5 1356.5 855.8 C1353.3 873.6 1352.2 887.7 1351.5 905.7 C1351 918 1351.2 929 1351.5 940 L1300 940 L1300 690Z" fill="#e9d8cd"/>
<path d="M1449.7 725 C1449.7 727.3 1449.8 729.5 1449.7 732.1 C1449.2 747.1 1443.8 758.2 1439.7 772.7 C1434.5 790.9 1429.1 804.7 1423 822.6 C1416 843 1409.5 858.5 1403.1 879.1 C1396.3 900.8 1391.4 920.4 1386.5 940 L1520 940 L1520 700 L1449.7 725Z" fill="#b59884"/>
</g>
<path d="M1378.1 692.2 L1309.9 935.7 L1451.3 935.7 C1452.4 926 1453.4 916.3 1456.3 905.7 C1459 895.8 1462.8 888.7 1466.3 879.1 C1471.4 864.8 1474.4 853.4 1479.6 839.2 C1484.1 827.1 1487.5 817.6 1492.9 805.9 C1496.8 797.4 1501.4 791.4 1504.6 782.6 C1507.5 774.5 1509.4 768 1510.2 759.4 C1510.8 752.2 1510.9 746.5 1509.5 739.4 C1508.4 733.8 1506.7 729.7 1504.6 724.4 C1504 722.9 1503.5 721.7 1502.9 720.4 C1498 724.6 1493 728.8 1486.3 731.1 C1479.5 733.4 1473.5 732.8 1466.3 732.7 C1456.7 732.6 1449.1 731.4 1439.7 729.4 C1429.9 727.3 1422.2 725.4 1413.1 721.1 C1404.1 716.9 1397.1 712.9 1389.8 706.1 C1385 701.6 1381.6 696.9 1378.1 692.2Z" fill="none" stroke="#231f20" stroke-width="3.6" stroke-linejoin="round"/>
<clipPath id="lgclip"><path d="M1509.7 197.1 C1503.5 193.4 1499.6 205 1494.4 210.1 C1484.5 219.8 1479.1 229.5 1470.8 240.7 C1462.1 252.4 1455.8 261.9 1447.3 273.7 C1438.1 286.5 1428.8 295.1 1421.4 309 C1417.5 316.4 1415 322.4 1412 330.2 C1407.8 341 1405.7 349.7 1402.5 360.8 C1398.8 373.4 1396.3 383.3 1393.1 396.1 C1390.4 407.1 1388.3 415.7 1386 426.8 C1383.7 438 1382.2 446.7 1380.2 458 C1378.8 465.9 1377.7 472 1376.5 479.9 C1374.2 495.4 1372.8 507.6 1371.5 523.2 C1370 541.1 1369.4 555.1 1369.2 573.1 C1369 591.1 1369.3 605.1 1370.5 623 C1371.5 638.6 1373 650.7 1374.8 666.2 C1375.9 675.6 1377 683.9 1378.1 692.2 C1381.6 696.9 1385 701.6 1389.8 706.1 C1397.1 712.9 1404.1 716.9 1413.1 721.1 C1422.2 725.4 1429.9 727.3 1439.7 729.4 C1449.1 731.4 1456.7 732.6 1466.3 732.7 C1473.5 732.8 1479.3 732.8 1486.3 731.1 C1491.9 729.7 1498.3 730.3 1501.2 725.4 C1502.2 723.8 1502.5 722.1 1502.9 720.4 C1497.2 716.2 1491.6 712 1486.3 706.1 C1480.6 699.7 1476.7 694 1473 686.2 C1469.7 679.4 1468.2 673.6 1466.3 666.2 C1463.9 656.8 1462.6 649.3 1462.3 639.6 C1462 630 1463.8 622.6 1464.6 613 C1465.8 598.6 1467.4 587.5 1468 573.1 C1468.7 555.1 1467.8 541.2 1467 523.2 C1466.2 505.2 1466.1 491.1 1463.6 473.3 C1462.4 464.9 1462.2 458.1 1459.6 450 C1458.2 445.8 1455.7 442.9 1455 438.5 C1454.3 434.3 1454.9 431 1455.5 426.8 C1456.5 419.7 1458.9 414.6 1461.4 407.9 C1464.3 400.1 1467.1 394.2 1470.8 386.7 C1474.7 378.9 1477.9 372.9 1482.6 365.5 C1486.5 359.3 1489.2 354.1 1494.4 349 C1498.2 345.3 1501.3 342.4 1506.1 340.1 C1513.8 336.4 1521.2 338 1529.7 337.3 C1538.1 336.6 1544.8 337.5 1553.2 336.1 C1558.4 335.2 1563.7 336.3 1567.4 332.6 C1569.1 330.8 1570 328.8 1570.9 326.7 C1569 322.6 1567.1 318.4 1565 313.7 C1562.8 308.7 1560.8 304.8 1559.1 299.6 C1557.5 294.6 1557.6 290.3 1555.6 285.5 C1553.7 280.9 1551.5 277.6 1548.5 273.7 C1544.9 268.9 1541.3 265.9 1536.8 261.9 C1532.7 258.3 1528.4 256.8 1525 252.5 C1522.1 248.8 1520.6 245.2 1519.1 240.7 C1516.9 234.2 1517.5 228.7 1516.7 221.9 C1515.9 215.1 1517.8 209 1514.4 203 C1513.1 200.6 1512 198.5 1509.7 197.1Z"/></clipPath>
<path d="M1509.7 197.1 C1503.5 193.4 1499.6 205 1494.4 210.1 C1484.5 219.8 1479.1 229.5 1470.8 240.7 C1462.1 252.4 1455.8 261.9 1447.3 273.7 C1438.1 286.5 1428.8 295.1 1421.4 309 C1417.5 316.4 1415 322.4 1412 330.2 C1407.8 341 1405.7 349.7 1402.5 360.8 C1398.8 373.4 1396.3 383.3 1393.1 396.1 C1390.4 407.1 1388.3 415.7 1386 426.8 C1383.7 438 1382.2 446.7 1380.2 458 C1378.8 465.9 1377.7 472 1376.5 479.9 C1374.2 495.4 1372.8 507.6 1371.5 523.2 C1370 541.1 1369.4 555.1 1369.2 573.1 C1369 591.1 1369.3 605.1 1370.5 623 C1371.5 638.6 1373 650.7 1374.8 666.2 C1375.9 675.6 1377 683.9 1378.1 692.2 C1381.6 696.9 1385 701.6 1389.8 706.1 C1397.1 712.9 1404.1 716.9 1413.1 721.1 C1422.2 725.4 1429.9 727.3 1439.7 729.4 C1449.1 731.4 1456.7 732.6 1466.3 732.7 C1473.5 732.8 1479.3 732.8 1486.3 731.1 C1491.9 729.7 1498.3 730.3 1501.2 725.4 C1502.2 723.8 1502.5 722.1 1502.9 720.4 C1497.2 716.2 1491.6 712 1486.3 706.1 C1480.6 699.7 1476.7 694 1473 686.2 C1469.7 679.4 1468.2 673.6 1466.3 666.2 C1463.9 656.8 1462.6 649.3 1462.3 639.6 C1462 630 1463.8 622.6 1464.6 613 C1465.8 598.6 1467.4 587.5 1468 573.1 C1468.7 555.1 1467.8 541.2 1467 523.2 C1466.2 505.2 1466.1 491.1 1463.6 473.3 C1462.4 464.9 1462.2 458.1 1459.6 450 C1458.2 445.8 1455.7 442.9 1455 438.5 C1454.3 434.3 1454.9 431 1455.5 426.8 C1456.5 419.7 1458.9 414.6 1461.4 407.9 C1464.3 400.1 1467.1 394.2 1470.8 386.7 C1474.7 378.9 1477.9 372.9 1482.6 365.5 C1486.5 359.3 1489.2 354.1 1494.4 349 C1498.2 345.3 1501.3 342.4 1506.1 340.1 C1513.8 336.4 1521.2 338 1529.7 337.3 C1538.1 336.6 1544.8 337.5 1553.2 336.1 C1558.4 335.2 1563.7 336.3 1567.4 332.6 C1569.1 330.8 1570 328.8 1570.9 326.7 C1569 322.6 1567.1 318.4 1565 313.7 C1562.8 308.7 1560.8 304.8 1559.1 299.6 C1557.5 294.6 1557.6 290.3 1555.6 285.5 C1553.7 280.9 1551.5 277.6 1548.5 273.7 C1544.9 268.9 1541.3 265.9 1536.8 261.9 C1532.7 258.3 1528.4 256.8 1525 252.5 C1522.1 248.8 1520.6 245.2 1519.1 240.7 C1516.9 234.2 1517.5 228.7 1516.7 221.9 C1515.9 215.1 1517.8 209 1514.4 203 C1513.1 200.6 1512 198.5 1509.7 197.1Z" fill="#e1dfe2"/>
<g clip-path="url(#lgclip)">
<path d="M1543.8 297.2 C1537.6 299.7 1531.4 302.1 1525 306 C1515.5 311.8 1509.6 318.5 1501.4 326 C1492.6 334 1485.7 340.1 1477.9 349 C1470.5 357.5 1464.8 364.3 1459 374 C1452.6 384.8 1449.6 394.3 1444.9 406 C1441.3 415.1 1439.5 422.6 1435.5 431.5 C1434.1 434.6 1432.5 436.8 1431.4 440 C1427.4 451.3 1430.9 461.5 1433 473.3 C1434.1 479.4 1435.9 483.8 1437 489.9 C1440.1 507.6 1436.6 521.8 1436.4 539.8 C1436.2 557.8 1435.8 571.7 1435.7 589.7 C1435.6 607.7 1433.9 621.7 1435.7 639.6 C1437.2 654.1 1441.4 665 1443 679.5 C1443.9 687.9 1446.6 694.6 1444.7 702.8 C1443.2 709.3 1438.8 713.2 1436.4 719.4 C1434.3 724.9 1433.2 729.9 1432 735 L1520 740 C1528.4 643.3 1536.9 546.7 1520 440 C1514.5 405.5 1469.9 362.8 1500 345 C1509.5 339.4 1519.1 340.1 1530 338 C1543.2 335.5 1556.6 341.5 1567 333 C1569 331.4 1570.5 329.7 1572 328 C1570.6 328.8 1569.1 329.7 1567.4 330.4 C1559.9 333.4 1553 330.4 1545 329.8 C1539.5 329.4 1534.5 330.9 1529.7 328.2 C1527.3 326.8 1525 325.7 1523.8 323.1 C1522.6 320.4 1523 317.8 1524 315 C1525.1 311.9 1527.5 310.4 1529.7 308 C1532.2 305.3 1534 303.1 1537 301 C1539.3 299.4 1541.5 298.3 1543.8 297.2Z" fill="#aaa6b1"/>
<path d="M1505 220.7 C1498 235.5 1490.9 250.2 1482.6 266.6 C1474.4 282.9 1464.6 294 1459 311.4 C1456.9 318 1456 323.4 1454.3 330.2 C1450.9 343.8 1448.6 354.4 1444.9 367.9 C1440.3 385 1436.1 398.1 1430.8 415 C1425.9 430.5 1422.4 442.8 1416.6 458 C1412.1 469.6 1408.1 478.5 1403.1 489.9 C1397.8 502 1393 512.6 1388.1 523.2 C1389.7 544.5 1391.3 565.8 1393.1 589.7 C1394.9 613.6 1394 632.5 1398.1 656.2 C1399.1 662.2 1400.4 666.9 1401.4 672.9 C1403.1 682.6 1401.3 690.9 1405 700 C1407.6 706.3 1409.5 712 1415 716 C1420 719.7 1425.7 720.3 1431.4 721 C1436.3 715.7 1441.1 710.3 1443 702.8 C1444.5 697 1443.6 692.1 1443 686.2 C1442 675 1437.6 667 1434.7 656.2 C1431.6 644.3 1428.4 635.2 1426.4 623 C1423.5 605.3 1424.7 591.1 1424.7 573.1 C1424.7 555.1 1424.6 541.1 1426.4 523.2 C1427.6 511.1 1430 501.9 1431.4 489.9 C1432.1 483.9 1432.8 479.3 1433 473.3 C1433.4 463.1 1429.6 455 1431.4 445 C1432.3 440 1433.9 436.3 1435.5 431.5 C1438.6 422.1 1441.3 414.8 1444.9 405.6 C1449.6 393.6 1452.5 383.8 1459 372.6 C1464.8 362.6 1470.4 355.5 1477.9 346.7 C1485.7 337.6 1492.7 331.4 1501.4 323.1 C1509.7 315.2 1515.4 308.1 1525 301.9 C1531.4 297.8 1537.6 295.2 1543.8 292.5 L1508.5 264.3 L1505 220.7Z" fill="#eeeff5"/>
<path d="M1379.8 483.2 C1382.1 496 1384.5 508.7 1386.5 523.2 C1389.9 547 1391 565.7 1393.1 589.7 C1395.2 613.6 1396.2 632.3 1398.1 656.2 C1399.6 674.2 1398.3 688.5 1402.4 706.1 C1403.2 709.7 1404.1 712.8 1405 716 L1360 700 L1360 483 L1379.8 483.2Z" fill="#aaa6b1"/>
</g>
<path d="M1509.7 197.1 C1503.5 193.4 1499.6 205 1494.4 210.1 C1484.5 219.8 1479.1 229.5 1470.8 240.7 C1462.1 252.4 1455.8 261.9 1447.3 273.7 C1438.1 286.5 1428.8 295.1 1421.4 309 C1417.5 316.4 1415 322.4 1412 330.2 C1407.8 341 1405.7 349.7 1402.5 360.8 C1398.8 373.4 1396.3 383.3 1393.1 396.1 C1390.4 407.1 1388.3 415.7 1386 426.8 C1383.7 438 1382.2 446.7 1380.2 458 C1378.8 465.9 1377.7 472 1376.5 479.9 C1374.2 495.4 1372.8 507.6 1371.5 523.2 C1370 541.1 1369.4 555.1 1369.2 573.1 C1369 591.1 1369.3 605.1 1370.5 623 C1371.5 638.6 1373 650.7 1374.8 666.2 C1375.9 675.6 1377 683.9 1378.1 692.2 C1381.6 696.9 1385 701.6 1389.8 706.1 C1397.1 712.9 1404.1 716.9 1413.1 721.1 C1422.2 725.4 1429.9 727.3 1439.7 729.4 C1449.1 731.4 1456.7 732.6 1466.3 732.7 C1473.5 732.8 1479.3 732.8 1486.3 731.1 C1491.9 729.7 1498.3 730.3 1501.2 725.4 C1502.2 723.8 1502.5 722.1 1502.9 720.4 C1497.2 716.2 1491.6 712 1486.3 706.1 C1480.6 699.7 1476.7 694 1473 686.2 C1469.7 679.4 1468.2 673.6 1466.3 666.2 C1463.9 656.8 1462.6 649.3 1462.3 639.6 C1462 630 1463.8 622.6 1464.6 613 C1465.8 598.6 1467.4 587.5 1468 573.1 C1468.7 555.1 1467.8 541.2 1467 523.2 C1466.2 505.2 1466.1 491.1 1463.6 473.3 C1462.4 464.9 1462.2 458.1 1459.6 450 C1458.2 445.8 1455.7 442.9 1455 438.5 C1454.3 434.3 1454.9 431 1455.5 426.8 C1456.5 419.7 1458.9 414.6 1461.4 407.9 C1464.3 400.1 1467.1 394.2 1470.8 386.7 C1474.7 378.9 1477.9 372.9 1482.6 365.5 C1486.5 359.3 1489.2 354.1 1494.4 349 C1498.2 345.3 1501.3 342.4 1506.1 340.1 C1513.8 336.4 1521.2 338 1529.7 337.3 C1538.1 336.6 1544.8 337.5 1553.2 336.1 C1558.4 335.2 1563.7 336.3 1567.4 332.6 C1569.1 330.8 1570 328.8 1570.9 326.7 C1569 322.6 1567.1 318.4 1565 313.7 C1562.8 308.7 1560.8 304.8 1559.1 299.6 C1557.5 294.6 1557.6 290.3 1555.6 285.5 C1553.7 280.9 1551.5 277.6 1548.5 273.7 C1544.9 268.9 1541.3 265.9 1536.8 261.9 C1532.7 258.3 1528.4 256.8 1525 252.5 C1522.1 248.8 1520.6 245.2 1519.1 240.7 C1516.9 234.2 1517.5 228.7 1516.7 221.9 C1515.9 215.1 1517.8 209 1514.4 203 C1513.1 200.6 1512 198.5 1509.7 197.1Z" fill="none" stroke="#231f20" stroke-width="3.6" stroke-linejoin="round"/>
<path d="M1328.2 651.2 H1535.5 V749.4" fill="none" stroke="#000" stroke-width="3.2" stroke-dasharray="17.7 18" stroke-dashoffset="22.4" stroke-linejoin="round"/><path d="M1328.2 651.2 V749.4 H1535.5" fill="none" stroke="#000" stroke-width="3.2" stroke-dasharray="17.7 18" stroke-dashoffset="32.3" stroke-linejoin="round"/>
<line x1="1449" y1="508.2" x2="1518.9" y2="578.1" stroke="#231f20" stroke-width="3.2"/>
<text x="1546.8" y="234.8" font-size="57" fill="#000" text-anchor="start" >Bone</text>
<text x="1518.7" y="624.6" font-size="57" fill="#000" text-anchor="start" >Ligament</text>
<text x="1344" y="854.2" font-size="57" fill="#000" text-anchor="start" >Bone</text>
</g>
<g id="panel_b">
<clipPath id="bclip"><rect x="1906.3" y="108.2" width="635.4" height="827"/></clipPath>
<rect x="1906.3" y="108.2" width="635.4" height="827" fill="#f4f7fa"/>
<g clip-path="url(#bclip)">
<path d="M1907.5 612 C1919.8 614.2 1932.2 616.3 1946.3 617.6 C1956.4 618.5 1964.3 619.7 1974.5 619 C1984.8 618.3 1993 617.2 2002.6 613.4 C2010.2 610.4 2014.7 605 2022.3 602.1 C2031 598.8 2038.5 598.6 2047.6 597.3 C2066.7 594.7 2081.9 595.6 2101.1 595.6 C2121.4 595.7 2137.3 595.2 2157.4 597.9 C2167.6 599.3 2175.5 600.9 2185.6 603 C2195.8 605.1 2203.5 608 2213.7 609.7 C2228.8 612.3 2240.7 612.4 2256 612.5 C2271.2 612.7 2283.1 612.2 2298.2 610.6 C2313.5 608.9 2325.3 606.5 2340.4 603.5 C2355.7 600.5 2367.5 597.2 2382.7 593.7 C2397.9 590.1 2409.5 586.3 2424.9 583.8 C2437 581.9 2446.4 580.7 2458.7 580.4 C2468.8 580.2 2476.7 580.5 2486.8 581.6 C2497.1 582.7 2504.8 585.1 2515 586.6 C2525.1 588.2 2534.1 589.1 2543.1 590 L2546.7 935.2 L1901.3 935.2 Z" fill="#d8dbe5"/>
<path d="M1923.2 109.1 C1926.3 122.6 1929.3 136 1932.2 151.3 C1935.1 166.4 1937.5 178.2 1939.3 193.5 C1941.6 213.7 1941.7 229.5 1942.1 249.8 C1942.6 275.2 1941 294.9 1940.7 320.2 C1940.4 340.5 1940.2 356.2 1940.1 376.5 C1940 396.8 1940.4 412.6 1940.1 432.8 C1939.8 453.1 1939.1 468.9 1938.4 489.1 C1937.3 525.2 1936.6 553.3 1935 589.5 C1934.1 609.7 1932.7 625.5 1932.2 645.8 C1931.7 666 1930.2 681.9 1932.2 702.1 C1933.2 712.3 1934.8 721.2 1936.5 730.2 M1933.6 109.1 C1935.1 122.6 1936.7 136.1 1937.9 151.3 C1939.4 171.5 1939.2 187.4 1940.7 207.6 C1942.2 227.9 1944.5 243.6 1946.3 263.9 C1948.1 284.2 1949.3 299.9 1950.5 320.2 C1951.8 340.5 1952.7 356.2 1953.3 376.5 C1954 396.8 1954.3 412.5 1954.2 432.8 C1954 453.1 1953.4 468.9 1952.5 489.1 C1950.8 525.3 1947.3 553.3 1944.9 589.5 C1943.2 614.8 1941.7 634.5 1940.7 659.8 C1939.7 685.2 1939.5 707.7 1939.3 730.2 M1946.3 109.1 C1948.7 122.6 1951.1 136.1 1953.3 151.3 C1956.3 171.5 1958.1 187.3 1960.4 207.6 C1962.7 227.8 1964 243.6 1966 263.9 C1968 284.2 1969.6 299.9 1971.6 320.2 C1973.7 340.5 1975.2 356.2 1977.3 376.5 C1978.8 391.7 1980.2 403.5 1981.5 418.7 C1983.6 444 1984.2 463.8 1985.7 489.1 C1987.8 525.2 1987.8 553.5 1991.3 589.5 C1992.7 602.7 1994.1 614.4 1995.6 626.1 M1954.2 109.1 C1957.4 122.5 1960.5 136 1963.2 151.3 C1966.7 171.4 1968.7 187.2 1970.2 207.6 C1971.7 227.8 1970.9 243.6 1971.6 263.9 C1972.4 284.2 1973.2 300 1974.5 320.2 C1975.7 340.5 1976.9 356.3 1978.7 376.5 C1980.5 396.8 1981.5 412.6 1984.3 432.8 C1987.1 453.2 1990.1 468.9 1994.2 489.1 C1999.4 515.3 2005.5 535.2 2011.1 561.3 C2014.3 576.5 2016.9 588.2 2019.5 603.5 C2023.8 628.7 2025.2 648.5 2027.9 673.9 C2030.1 694.2 2032.3 709.9 2033.6 730.2 C2034.5 744.9 2034.7 758 2035 771 M1968.3 109.1 C1971.9 122.5 1975.5 136 1978.7 151.3 C1982.8 171.4 1984.3 187.3 1987.1 207.6 C1989.9 227.8 1991.9 243.6 1994.2 263.9 C1996.4 284.2 1998 299.9 1999.8 320.2 C2001.6 340.5 2002.6 356.2 2004 376.5 C2005.4 396.8 2006.7 412.5 2007.7 432.8 C2008.7 453.1 2009.1 468.8 2009.6 489.1 C2011 538.4 2011 582.2 2011.1 626.1 M1985.7 109.1 C1988.7 122.5 1991.6 136 1994.2 151.3 C1997.5 171.4 1998.7 187.3 2001.2 207.6 C2003.7 227.9 2006 243.6 2008.2 263.9 C2010.5 284.2 2011.8 299.9 2013.9 320.2 C2015.9 340.5 2017.2 356.3 2019.5 376.5 C2021.8 396.8 2024 412.5 2026.5 432.8 C2029.1 453.1 2031.3 468.8 2033.6 489.1 C2037.5 525.2 2040.3 553.2 2042 589.5 C2043.5 619.8 2043.2 643.5 2043.4 673.9 C2043.7 708.9 2043.6 740 2043.4 771 M1995.6 109.1 C1997.9 122.6 2000.2 136.1 2002.6 151.3 C2005.8 171.5 2008.3 187.3 2011.1 207.6 C2013.8 227.8 2015.8 243.6 2018.1 263.9 C2020.4 284.2 2021.9 299.9 2023.7 320.2 C2025.5 340.5 2026.7 356.2 2027.9 376.5 C2029.2 396.8 2029.7 412.5 2030.8 432.8 C2031.8 453.1 2031.7 468.9 2033.6 489.1 C2036.9 525.6 2045.4 553.2 2050.5 589.5 C2053.3 609.7 2055.5 625.4 2057.5 645.8 C2059.5 666 2060.9 681.8 2061.7 702.1 C2062.8 728.4 2062.3 751.8 2061.7 775.3 M2004 109.1 C2006.3 122.6 2008.6 136.1 2011.1 151.3 C2014.3 171.5 2016.5 187.3 2019.5 207.6 C2022.5 227.9 2024.9 243.6 2027.9 263.9 C2031 284.2 2033.6 299.9 2036.4 320.2 C2039.2 340.4 2040.9 356.2 2043.4 376.5 C2046 396.8 2047.9 412.5 2050.5 432.8 C2053 453.1 2055.1 468.8 2057.5 489.1 C2061.2 520.2 2063.1 544.4 2067.4 575.4 C2070.1 595.7 2073.3 611.3 2075.8 631.7 C2078.3 651.9 2079.9 667.7 2081.4 688 C2082.4 701.1 2083.1 712.9 2083.7 724.6 M2015.3 109.1 C2018.4 122.6 2021.5 136.1 2025.1 151.3 C2030 171.6 2034.1 187.3 2039.2 207.6 C2044.3 227.9 2048.2 243.6 2053.3 263.9 C2058.3 284.2 2062.5 299.9 2067.4 320.2 C2071 335.4 2074.7 347 2077.2 362.4 C2079.7 377.5 2080.2 389.4 2081.4 404.7 C2083 424.9 2083.4 440.7 2084.2 461 C2086.2 507.2 2088.4 543.2 2087.1 589.5 C2086.5 609.7 2085.4 625.5 2084.2 645.8 C2083.1 666 2080.9 681.8 2080.9 702.1 C2080.9 710.2 2081.2 717.4 2081.4 724.6 M2037.8 109.1 C2041 122.6 2044.2 136.1 2047.6 151.3 C2052.3 171.6 2056.2 187.2 2060.3 207.6 C2064.3 227.8 2067.4 243.5 2070.2 263.9 C2072.9 284.1 2074 299.9 2075.8 320.2 C2077.6 340.5 2078.5 356.2 2080 376.5 C2081.5 396.8 2083 412.5 2084.2 432.8 C2085.5 453.1 2085.2 468.9 2087.1 489.1 C2090 520.4 2096.1 544.3 2101.1 575.4 C2105.2 600.7 2108.8 620.3 2112.4 645.8 C2115.9 671 2118.2 690.8 2120.8 716.1 C2123.2 739.4 2124.9 760.1 2126.5 780.9 M2049.1 109.1 C2049.8 122.7 2050.5 136.3 2053.3 151.3 C2057.1 172.1 2064.1 187.3 2070.2 207.6 C2076.3 227.9 2081.7 243.4 2087.1 263.9 C2092.3 284 2095.8 299.8 2099.7 320.2 C2102.6 335.3 2105.5 347.1 2106.8 362.4 C2108 377.6 2106.9 389.5 2106.8 404.7 C2106.5 424.9 2105.7 440.7 2105.4 461 C2104.5 517.4 2106.6 561.2 2106.8 617.6 C2106.9 656.1 2106.8 690.3 2106.8 724.6 M2078.6 109.1 C2076.9 122.6 2075.3 136.1 2074.4 151.3 C2073.2 171.5 2073.1 187.4 2074.4 207.6 C2075.7 228 2079.1 243.6 2081.4 263.9 C2083.7 284.2 2084.8 300 2087.1 320.2 C2089.3 340.5 2091.6 356.2 2094.1 376.5 C2096.6 396.8 2098.4 412.6 2101.1 432.8 C2103.9 453.1 2106.4 468.9 2109.6 489.1 C2114.4 520.2 2118.6 544.3 2123.7 575.4 C2127.7 600.7 2131.4 620.3 2134.9 645.8 C2138.5 671 2140.5 690.8 2143.4 716.1 C2146 739.4 2148.2 760.2 2150.4 780.9 M2104.5 109.1 C2101.7 122.5 2098.9 136 2098.3 151.3 C2097.5 171.7 2100.9 187.5 2104 207.6 C2107 228.1 2111.2 243.6 2115.2 263.9 C2119.3 284.2 2123.4 299.8 2126.5 320.2 C2129.5 340.4 2132.1 356.1 2132.1 376.5 C2132.1 386.7 2131 394.5 2130.7 404.7 C2130 424.9 2130.4 440.7 2130.7 461 C2131.3 507.3 2133.8 543.2 2136.3 589.5 C2137.7 614.8 2139.3 634.5 2140.5 659.8 C2141.8 685.2 2142.5 704.9 2143.4 730.2 C2144 748.5 2144.4 764.7 2144.8 780.9 M2134.9 109.1 C2132.5 122.5 2130.1 136 2129.3 151.3 C2128.2 171.6 2130.8 187.4 2132.1 207.6 C2133.4 227.9 2134.8 243.6 2136.3 263.9 C2137.8 284.2 2139.4 299.9 2140.5 320.2 C2141.7 340.5 2143.1 356.2 2142.8 376.5 C2142.6 391.7 2141.7 403.6 2140.5 418.7 C2139.1 439.1 2135.7 454.7 2134.9 475 C2133.2 521.5 2143.8 557.3 2149 603.5 C2153 639 2155.8 666.6 2160.3 702.1 C2164 731.5 2167.8 757.6 2171.5 783.7 M2159.7 109.1 C2159.5 131.6 2159.4 154.1 2158.8 179.5 C2158.2 209.9 2156.9 233.5 2156 263.9 C2155.2 294.3 2154.6 318 2154.1 348.4 C2153.6 378.8 2153.4 402.4 2153.2 432.8 C2152.9 499.3 2152.9 551.1 2154.6 617.6 C2155.4 648 2156.7 671.7 2157.4 702.1 C2158.2 730.9 2158.5 756.6 2158.8 782.3 M2180.8 109.1 C2181.4 131.6 2182 154.1 2182.8 179.5 C2183.7 209.9 2184.8 233.5 2185.6 263.9 C2186.4 294.3 2186.5 318 2187 348.4 C2187.5 378.8 2187.9 402.4 2188.4 432.8 C2189.5 498.3 2190.3 556.6 2191.2 614.8 M2214.6 109.1 C2214.8 131.6 2215.1 154.1 2215.4 179.5 C2215.9 209.9 2216.4 233.5 2216.8 263.9 C2217.2 294.3 2217.7 318 2217.7 348.4 C2217.7 378.8 2217.1 402.4 2216.8 432.8 C2216.2 497.8 2215.8 555.6 2215.4 613.4 M2216.8 109.1 C2217.1 131.6 2217.3 154.1 2217.7 179.5 C2218.1 209.9 2218.7 233.5 2219.1 263.9 C2219.5 294.3 2219.9 318 2219.9 348.4 C2219.9 378.8 2219.4 402.4 2219.1 432.8 C2218.5 497.8 2218.1 555.6 2217.7 613.4 M2241.9 109.1 C2243.4 131.6 2244.9 154.1 2246.1 179.5 C2247.6 209.8 2248.1 233.5 2248.9 263.9 C2249.8 294.3 2250.6 318 2250.9 348.4 C2251.2 378.8 2251.3 402.4 2250.3 432.8 C2249.7 453.1 2249.5 468.9 2247.5 489.1 C2245 515.3 2240.8 535.4 2236.3 561.3 C2233 580.1 2229.7 596.7 2226.4 613.4 M2253.2 109.1 C2254.6 131.6 2256 154.1 2257.4 179.5 C2259 209.8 2260 233.5 2261 263.9 C2262.1 294.3 2262.4 318 2263 348.4 C2263.6 378.8 2264 402.4 2264.4 432.8 C2265.3 499.3 2265.7 551.1 2265.8 617.6 C2265.9 652.1 2265.9 682.7 2265.8 713.3 M2279.9 109.1 C2281.3 131.6 2282.6 154.1 2284.1 179.5 C2285.9 209.9 2287.8 233.5 2289.2 263.9 C2290.6 294.3 2291.5 317.9 2292 348.4 C2292.4 373.7 2293.6 393.5 2292 418.7 C2290.7 439.1 2288.8 454.9 2285.5 475 C2280.3 506.6 2271.2 530.1 2264.4 561.3 C2260 581.5 2256.9 597.3 2253.2 617.6 C2248.6 642.8 2245.8 662.6 2241.9 688 C2238.8 708.2 2235.5 723.9 2233.4 744.3 C2231.9 759.4 2231.3 773 2230.6 786.5 M2297.4 109.1 C2297.7 131.6 2298 154.1 2298.2 179.5 C2298.5 209.9 2298.4 233.5 2298.8 263.9 C2299.2 294.3 2299.7 318 2300.4 348.4 C2301.1 373.7 2302.5 393.4 2302.4 418.7 C2302.4 439 2301.8 454.8 2301 475 C2299.7 506.1 2297.7 530.3 2295.4 561.3 C2293.5 586.7 2291.2 606.3 2289.8 631.7 C2288 661 2287.5 687.2 2286.9 713.3 M2320.7 109.1 C2319.3 131.6 2317.9 154.1 2317.3 179.5 C2316.6 209.9 2316.9 233.5 2317.9 263.9 C2318.6 284.2 2319.2 300 2320.7 320.2 C2322.2 340.5 2325.1 356.2 2326.3 376.5 C2327.6 396.8 2327.9 412.5 2327.8 432.8 C2327.6 453.1 2326.7 468.9 2325.5 489.1 C2323.7 520.2 2319.8 544.3 2317.9 575.4 C2316.3 600.7 2314.6 620.4 2315.1 645.8 C2315.6 671.2 2317.8 690.9 2320.7 716.1 C2322.8 734.4 2325.3 750.6 2327.8 766.8 M2334.8 109.1 C2333.4 122.6 2332.1 136.1 2330.6 151.3 C2328 176.6 2325.6 196.3 2323.5 221.7 C2321.5 247 2320.3 266.7 2319.3 292.1 C2318.5 312.3 2318.4 328.1 2317.9 348.4 C2317.4 368.6 2317.5 384.4 2316.5 404.7 C2315.5 425 2313.7 440.7 2312.3 461 C2309.4 502.1 2307.7 534.2 2305.2 575.4 C2303.7 600.7 2302.3 620.4 2301 645.8 C2299.7 671.1 2299 693.6 2298.2 716.1 M2338.2 109.1 C2336.7 122.6 2335.1 136.1 2334.2 151.3 C2333 171.5 2333.6 187.3 2333.4 207.6 C2333.2 232.9 2332.3 252.7 2333.4 278 C2334.2 298.3 2335.8 314 2337.6 334.3 C2339.4 354.6 2341.7 370.3 2343.2 390.6 C2344.8 410.8 2345.9 426.6 2346.1 446.9 C2346.2 464.1 2345.6 477.5 2344.6 494.8 C2343 523.9 2339.5 546.4 2336.2 575.4 C2333.3 600.7 2329.8 620.3 2327.8 645.8 C2325.7 671 2323.7 690.8 2324.9 716.1 C2325.8 734.5 2328.2 750.6 2330.6 766.8 M2380.4 109.1 C2377.8 127.1 2375.2 145.1 2372.8 165.4 C2369.8 190.7 2367.3 210.3 2365.8 235.8 C2364.2 261.1 2363.6 280.8 2364.4 306.1 C2365.1 331.5 2366.6 351.3 2370 376.5 C2372 391.8 2375.5 403.4 2377 418.7 C2378.5 433.9 2379 445.8 2378.4 461 C2377.9 474.2 2376.3 484.4 2374.8 497.6 C2372.1 520.6 2369.7 538.5 2365.8 561.3 C2362.3 581.7 2358.3 597.3 2354.5 617.6 C2350.7 637.8 2346.2 653.4 2344.6 673.9 C2343.2 694.1 2344.5 710 2346.1 730.2 C2347.1 743.9 2348.7 756.1 2350.3 768.2 M2391.1 109.1 C2388.9 127.1 2386.7 145.1 2384.1 165.4 C2380.7 190.7 2376.5 210.3 2374.2 235.8 C2371.9 261 2370.9 280.8 2371.4 306.1 C2371.9 331.5 2372.7 351.5 2377 376.5 C2380.6 397.1 2387.3 412.3 2391.1 432.8 C2394.8 452.9 2397.6 468.7 2398.1 489.1 C2398.7 510.1 2396.9 526.5 2393.9 547.2 C2390.6 569.9 2386.1 587.2 2379.8 609.2 C2378.4 614.2 2377 618.7 2375.6 623.2 M2411.6 109.1 C2411.9 131.6 2412.2 154.1 2412.2 179.5 C2412.2 209.9 2411.5 233.5 2411.4 263.9 C2411.2 304.4 2411.5 336 2411.6 376.5 C2411.8 406.9 2412 430.6 2412.2 461 C2412.6 517.4 2412.2 561.2 2413.6 617.6 C2414.4 648 2415.7 671.6 2416.4 702.1 C2417.2 733.5 2417.5 761.4 2417.8 789.3 M2413.6 109.1 C2413.2 131.6 2412.8 154.1 2412.2 179.5 C2411.7 199.7 2411.6 215.5 2410.8 235.8 C2410 256 2408.5 271.8 2408 292.1 C2407.3 322.5 2407.4 346.2 2409.4 376.5 C2410.7 396.8 2412.6 412.6 2415 432.8 C2416.8 448 2419.4 459.8 2420.7 475 C2423.2 506 2422.7 530.4 2419.2 561.3 C2416.7 583.8 2414.5 601.5 2408 623.2 C2405.5 631.5 2403 637.7 2400.1 645.8 C2397.9 651.9 2395.9 657.3 2393.9 662.6 M2416.4 109.1 C2415.2 131.6 2414 154.1 2414.2 179.5 C2414.3 199.7 2415.5 215.5 2416.4 235.8 C2417.8 266.2 2419.4 289.8 2420.7 320.2 C2421.9 350.6 2422.3 374.3 2423.5 404.7 C2424.4 430 2425.4 449.7 2426.3 475 C2428.2 526.4 2428.9 566.3 2430.5 617.6 C2431.5 648 2432.7 671.6 2433.3 702.1 C2433.9 732.5 2433.9 759.5 2433.9 786.5 M2420.7 109.1 C2422.9 127.1 2425.2 145.1 2427.7 165.4 C2430.8 190.7 2433.6 210.4 2436.1 235.8 C2438.7 261 2439.7 280.8 2441.8 306.1 C2443.8 331.5 2445.6 351.2 2447.4 376.5 C2449.2 401.8 2450.4 421.5 2451.6 446.9 C2456 537.6 2454.5 618.4 2453 699.2 M2429.1 109.1 C2431.9 127.1 2434.8 145.1 2437.5 165.4 C2441 190.7 2444 210.3 2446 235.8 C2448 261 2448 280.8 2448.8 306.1 C2449.6 331.5 2449.5 351.2 2450.2 376.5 C2451 401.9 2451.2 421.6 2453 446.9 C2456.4 493.4 2463 529.2 2469.9 575.4 C2473.7 600.8 2478.1 620.3 2481.2 645.8 C2483.5 665 2483.2 680.1 2486.3 699.2 C2488.1 710.5 2490.7 719 2492.4 730.2 C2494.8 745.3 2495.7 758.9 2496.7 772.4 M2468.5 109.1 C2471.8 127.1 2475.1 145.1 2478.4 165.4 C2482.4 190.6 2485.2 210.4 2488.2 235.8 C2491.3 261 2493 280.8 2495.3 306.1 C2497.5 331.5 2498.9 351.2 2500.9 376.5 C2502.9 401.9 2503 421.7 2506.5 446.9 C2509.2 466.3 2512 481.3 2516.4 500.4 C2520.3 517.4 2525.4 530.1 2529 547.2 C2532.3 562.3 2533.8 574.2 2536.1 589.5 C2537.9 601.6 2539.4 612.4 2540.9 623.2 M2477 109.1 C2479.8 127.1 2482.6 145.1 2485.4 165.4 C2488.9 190.7 2491.6 210.3 2493.9 235.8 C2496.1 261 2496.1 280.8 2498.1 306.1 C2500.1 331.5 2502.3 351.2 2505.1 376.5 C2507.9 401.9 2509.6 421.7 2513.6 446.9 C2516.6 466.2 2519.6 481.2 2523.4 500.4 C2526.8 517.3 2530.5 530.2 2533.3 547.2 C2535.1 558.3 2535.5 567.1 2537.5 578.2 C2538.8 585.3 2540.3 591.6 2541.7 597.9 M2491 109.1 C2495.5 127 2499.9 145 2503.7 165.4 C2508.4 190.5 2510.5 210.4 2513.6 235.8 C2516.6 261 2518.3 280.8 2520.6 306.1 C2522.9 331.5 2524.5 351.2 2526.2 376.5 C2528 401.8 2529.2 421.5 2530.4 446.9 C2533.5 508.3 2533.6 556.1 2534.7 617.6 C2535.4 662.2 2535.8 701.8 2536.1 741.5 M2509.3 109.1 C2512.7 127.1 2516.1 145 2519.2 165.4 C2523 190.6 2524.8 210.4 2527.6 235.8 C2530.4 261.1 2532 280.8 2534.7 306.1 C2537.1 329.5 2539.4 350.2 2541.7 370.9 M1907.5 376.5 C1907.8 403.5 1908.1 430.6 1908.6 461 C1909.3 507.2 1909.8 543.2 1911.1 589.5 C1912 619.9 1912.2 643.5 1913.9 673.9 C1915.1 695.2 1916.6 714.1 1918.2 733 M2469.9 109.1 C2473.7 131.6 2477.4 154.1 2481.2 179.5 C2485.7 209.8 2489.1 233.4 2492.4 263.9 C2495.7 294.2 2497.2 317.9 2499.5 348.4 C2501.8 378.7 2503.1 402.4 2505.1 432.8 C2508.8 489.2 2512.7 533 2515 589.5 C2516.2 619.8 2516.6 643.5 2517.2 673.9 C2517.9 709.4 2518.1 740.9 2518.3 772.4 M1994.7 685.2 L1994.7 769.6 M2011.6 685.2 L2010.5 769.6 M2191.2 675.9 L2191.8 786.5 M2215.2 676.7 L2216.6 786.5 M2213.7 676.7 C2211.2 689.3 2208.7 701.9 2206.7 716.1 C2204.6 731.3 2203.3 743.1 2202.5 758.4 C2202 768.5 2201.9 777.5 2201.9 786.5 M2388.3 679.5 C2384.7 691.2 2381.2 702.8 2378.4 716.1 C2375.4 731.2 2374 743.1 2372.8 758.4 C2372.4 763.4 2372.2 767.9 2372 772.4 M2365.8 679.5 C2361.5 691.1 2357.2 702.6 2354.5 716.1 C2350.9 734.6 2351.3 751.4 2351.7 768.2 M2455.8 758.4 L2458.1 782.3" fill="none" stroke="#5f5c5d" stroke-width="3.4"/>
<path d="M1907.5 612 C1919.8 614.2 1932.2 616.3 1946.3 617.6 C1956.4 618.5 1964.3 619.7 1974.5 619 C1984.8 618.3 1993 617.2 2002.6 613.4 C2010.2 610.4 2014.7 605 2022.3 602.1 C2031 598.8 2038.5 598.6 2047.6 597.3 C2066.7 594.7 2081.9 595.6 2101.1 595.6 C2121.4 595.7 2137.3 595.2 2157.4 597.9 C2167.6 599.3 2175.5 600.9 2185.6 603 C2195.8 605.1 2203.5 608 2213.7 609.7 C2228.8 612.3 2240.7 612.4 2256 612.5 C2271.2 612.7 2283.1 612.2 2298.2 610.6 C2313.5 608.9 2325.3 606.5 2340.4 603.5 C2355.7 600.5 2367.5 597.2 2382.7 593.7 C2397.9 590.1 2409.5 586.3 2424.9 583.8 C2437 581.9 2446.4 580.7 2458.7 580.4 C2468.8 580.2 2476.7 580.5 2486.8 581.6 C2497.1 582.7 2504.8 585.1 2515 586.6 C2525.1 588.2 2534.1 589.1 2543.1 590" fill="none" stroke="#231f20" stroke-width="3"/>
<path d="M1901.3 787.9 C1903.2 788.4 1905.2 788.8 1907.5 789.3 C1913.4 790.7 1917.7 793.4 1923.8 793.6 C1936 793.9 1943.5 784.4 1954.7 779.5 C1961.8 776.4 1967.1 773.2 1974.5 771 C1986.2 767.5 1996 767.4 2008.2 767.4 C2020.5 767.4 2030 768.7 2042 771 C2053.4 773.2 2061.5 777.8 2073 779.5 C2088 781.6 2100 779.3 2115.2 778.6 C2122.3 778.3 2127.8 777.4 2134.9 777.5 C2143.1 777.6 2149.4 778.5 2157.4 779.5 C2167.6 780.7 2175.4 783 2185.6 784.3 C2192.7 785.1 2198.2 785.8 2205.3 786 C2215.5 786.1 2223.5 785.8 2233.4 783.7 C2244 781.5 2251.3 777 2261.6 773.8 C2274.6 769.9 2284.8 766.5 2298.2 764.6 C2308.2 763.1 2316.2 762.4 2326.3 762.6 C2336.5 762.7 2344.5 763.4 2354.5 765.4 C2364.9 767.4 2372.8 769.9 2382.7 773.8 C2391.1 777.2 2396.5 782.5 2405.2 785.1 C2410.1 786.6 2414.1 787.7 2419.2 787.9 C2427.5 788.3 2433.8 785.9 2441.8 783.7 C2451.2 781.1 2457.8 776.8 2467.1 773.8 C2475.1 771.4 2481.3 768.5 2489.6 768.2 C2496.8 768 2502.4 769.1 2509.3 771 C2515.7 772.8 2520.1 775.6 2526.2 778.1 C2534.3 781.3 2541.5 783.9 2548.7 786.5 L2551.7 940.2 L1896.3 940.2 Z" fill="#b59884" stroke="#000" stroke-width="3.4"/>
<path d="M1907.5 822.5 C1911.8 821.5 1914.6 826 1918.2 828.7 C1921.3 831.2 1927 832.7 1926 836.6 C1925.2 839.9 1921.2 840.1 1918.2 841.4 C1914.5 843 1911.2 845.6 1907.5 844.2 C1903.5 842.8 1901.6 838.6 1901.3 834.4 C1900.9 829.6 1902.8 823.7 1907.5 822.5Z M1907.5 862.5 C1914.8 862.9 1912.8 874.9 1912.5 882.2 C1912.3 888.6 1913.8 898.7 1907.5 899.1 C1901 899.5 1901.6 888.7 1901.3 882.2 C1900.9 874.8 1900 862.1 1907.5 862.5Z M2006.8 804.8 C2009.6 804.9 2011.8 805.9 2013.9 807.6 C2016.1 809.5 2017.4 811.8 2018.1 814.7 C2018.9 818.2 2018 821.2 2016.7 824.5 C2015.4 827.9 2012 829.4 2011.1 833 C2010.3 835.9 2010.3 838.5 2011.1 841.4 C2012.1 845.6 2016 847.4 2018.1 851.3 C2020.1 855.1 2021.6 858.3 2022.3 862.5 C2023 866.5 2022.8 869.8 2022.3 873.8 C2021.8 877.9 2021.2 881.2 2019.5 885 C2018.3 887.7 2018.2 892.6 2015.3 892.1 C2012.6 891.6 2013.3 887.6 2012.5 885 C2011.1 881.1 2011 877.7 2009.6 873.8 C2008.4 870.1 2007.9 866.9 2005.4 863.9 C2004.1 862.4 2003.2 860.5 2001.2 860.3 C1998.8 859.9 1997.3 862.2 1995.6 863.9 C1992.2 867.4 1992.6 872 1991.3 876.6 C1989.1 884.5 1988.5 891 1987.1 899.1 C1986 906.2 1986.5 912 1984.3 918.8 C1983.5 921.4 1984.1 925.1 1981.5 925.9 C1978.4 926.8 1977.7 921.5 1975.9 918.8 C1972.7 914.1 1972 909.4 1968.8 904.8 C1967 902.1 1966.2 898.9 1963.2 897.7 C1960.8 896.8 1958.4 896.6 1956.2 897.7 C1953.5 899.1 1953.1 902 1951.9 904.8 C1949.8 909.5 1950.2 913.8 1949.1 918.8 C1947.7 925.9 1946.3 932.2 1944.9 938.5 L1925.2 938.5 C1924.3 933.1 1923.4 927.7 1922.4 921.6 C1921.9 918.6 1919.7 916 1921 913.2 C1922 910.9 1924.8 910.7 1926.6 909 C1929.8 906 1931.7 903 1933.6 899.1 C1936 894.4 1936.7 890.2 1937.9 885 C1939 880 1938.9 876 1940.1 871 C1940.7 868.4 1940.5 866.1 1942.1 863.9 C1944.1 861.2 1947.3 860.9 1950.5 859.7 C1953.9 858.5 1957.1 855.9 1960.4 857.5 C1962.5 858.5 1963.5 860.4 1964.6 862.5 C1966.9 867.1 1963.6 871.5 1963.8 876.6 C1963.8 880.2 1962.3 883.7 1964.6 886.5 C1965.8 887.9 1967 889.2 1968.8 889.3 C1971.8 889.3 1971.8 884.9 1973 882.2 C1975.8 876.6 1976 871.5 1977.3 865.3 C1978.6 858.8 1978.1 853.4 1980.1 847 C1981.6 842.3 1983.4 838.8 1985.7 834.4 C1988 830.2 1990.7 827.4 1992.8 823.1 C1994.7 819.2 1994.8 815.6 1997 811.9 C1998.3 809.7 1999 807.6 2001.2 806.2 C2003 805.1 2004.7 804.8 2006.8 804.8Z M2099.7 820.9 C2103.2 821.2 2104.9 824.4 2106.8 827.3 C2109 830.9 2109.6 834.4 2109.6 838.6 C2109.6 842.8 2108.5 846.1 2106.8 849.9 C2105.3 853.2 2102.8 855 2101.1 858.3 C2099.9 860.7 2098.7 862.6 2098.3 865.3 C2097.8 869.5 2099.9 872.6 2101.1 876.6 C2102.8 881.8 2105.9 885.3 2106.8 890.7 C2107.4 894.7 2107.6 898 2106.8 901.9 C2105.8 906.4 2103.8 909.5 2101.1 913.2 C2098.6 916.7 2097 921.3 2092.7 921.6 C2090.6 921.8 2088.8 921.3 2087.1 920.2 C2083.8 918.2 2084.2 914 2082.8 910.4 C2080.9 905 2080.6 900.3 2078.6 894.9 C2076.9 890.2 2077.3 884.7 2073 882.2 C2070.7 881 2068.5 880.3 2065.9 880.8 C2062.4 881.6 2061 885 2058.9 887.9 C2056 891.9 2055.3 896 2053.3 900.5 C2051.7 904.1 2051.2 907.2 2049.1 910.4 C2046.7 914 2043.3 915.5 2040.6 918.8 C2037.6 922.6 2035.8 925.8 2033.6 930.1 C2031.8 933.5 2030.6 936.7 2029.4 939.9 L2004 939.9 C2008.3 935.6 2012.5 931.3 2016.7 925.9 C2020 921.5 2022.2 917.8 2025.1 913.2 C2028.3 908.2 2031.1 904.5 2033.6 899.1 C2036.3 893.3 2037.7 888.5 2039.2 882.2 C2040.7 876.2 2041.4 871.5 2042 865.3 C2042.6 859.3 2041.8 854.5 2042.6 848.4 C2043.1 844.4 2042.8 840.8 2044.8 837.2 C2046.6 834.1 2048.8 832 2051.9 830.2 C2054.2 828.7 2056.3 826.5 2058.9 827.3 C2061.3 828.1 2062.1 830.7 2063.1 833 C2065.3 837.6 2061.2 842.3 2063.1 847 C2063.9 848.9 2064.4 850.6 2065.9 851.8 C2068.3 853.7 2071.4 853.2 2074.4 852.7 C2078.4 852 2081.4 850 2084.2 847 C2086.7 844.5 2088.2 842 2089.3 838.6 C2090.5 835.2 2089.2 832.1 2090.4 828.7 C2091.3 826.3 2092 824.1 2094.1 822.5 C2095.8 821.3 2097.6 820.7 2099.7 820.9Z M2156 831.6 C2158.8 829.9 2161.7 832.7 2164.5 834.4 C2167.6 836.2 2168.4 839.6 2171.5 841.4 C2174.3 843.1 2176.8 844.2 2180 844.2 C2183.2 844.2 2185.4 842.6 2188.4 841.4 C2193.7 839.3 2197.2 836.4 2202.5 834.4 C2207.4 832.4 2211.3 830.4 2216.6 830.2 C2219.8 830 2224.7 827.9 2225.6 831 C2226.3 833.7 2222.7 835.1 2220.8 837.2 C2217.6 840.7 2213.7 841.9 2210.9 845.6 C2208.9 848.4 2207.8 850.9 2206.7 854.1 C2205 858.9 2206.9 863.5 2204.7 868.2 C2203.7 870.3 2202.8 872.1 2201.1 873.8 C2198.3 876.5 2194.9 877 2191.2 878 C2187.3 879.1 2183.8 878 2180 879.4 C2177.2 880.5 2174.8 881.4 2172.9 883.6 C2170.2 886.8 2170.6 890.7 2170.1 894.9 C2169.5 900.4 2171.2 904.8 2171 910.4 C2170.8 913.4 2172.2 916.6 2170.1 918.8 C2168.6 920.4 2166.2 919.8 2164.5 921.1 C2159 925.1 2161.8 932.5 2164.5 939.9 L2156 939.9 C2156 935.1 2155.9 930.3 2153.2 925.9 C2151.4 922.8 2148.7 921.4 2146.2 918.8 C2144.7 917.3 2142.8 916.6 2142 914.6 C2140.5 911 2144.7 908.3 2146.2 904.8 C2148.3 899.7 2150.3 895.9 2151.8 890.7 C2152.8 887.2 2155.6 884.1 2154.1 880.8 C2152.3 877.1 2147.1 878.4 2143.4 876.6 C2139.7 874.8 2136.3 874 2133.5 871 C2131.9 869.2 2129.7 867.8 2129.9 865.3 C2130.1 862.8 2132.8 861.7 2134.9 860.3 C2138.4 857.9 2142.1 858.2 2146.2 856.9 C2148.7 856.1 2151.4 856.6 2153.2 854.6 C2155.1 852.6 2154.5 849.8 2154.6 847 C2154.8 843.5 2152.4 840.7 2153.2 837.2 C2153.7 835 2154.1 832.7 2156 831.6Z M2206.7 939.9 C2206.3 931.9 2205.9 923.9 2209.5 916 C2210.8 913.3 2211.4 910.7 2213.7 909 C2216.2 907.1 2219.8 905 2222.2 907 C2223.9 908.5 2223.6 910.9 2223.6 913.2 C2223.6 917.1 2220.1 919.3 2219.4 923.1 C2218.2 929.1 2220.2 934.5 2222.2 939.9 L2206.7 939.9Z M2247.5 839.4 C2251.1 839 2252.9 843 2256 844.8 C2259.9 847.1 2263.6 847.9 2267.2 850.7 C2270.2 853 2275 854.6 2274.3 858.3 C2273.9 860.1 2272.8 861.3 2271.5 862.5 C2269.6 864.1 2266.8 863.1 2265 864.8 C2262.6 867.1 2263.4 870.5 2263 873.8 C2262.3 879.8 2264.2 884.6 2263.9 890.7 C2263.5 896.8 2262 901.5 2261 907.6 C2260.2 912.6 2258.2 916.5 2258.8 921.6 C2259.1 924.6 2259.2 927.2 2261 929.5 C2262.4 931.2 2264.9 931 2265.8 932.9 C2266.9 935.2 2265.7 937.6 2264.4 939.9 L2247 939.9 C2244.5 934.2 2242.1 928.4 2240.5 921.6 C2239.5 917.6 2238.8 914.5 2238.5 910.4 C2238.1 904.3 2239.7 899.6 2239.9 893.5 C2240.3 885.4 2239.8 879.1 2239.6 871 C2239.5 864.9 2238.3 860.1 2239.1 854.1 C2239.6 849.9 2239 845.9 2241.9 842.8 C2243.5 841.1 2245.2 839.7 2247.5 839.4Z M2267.2 939.9 C2266.8 933.9 2266.4 927.9 2270.6 923.6 C2275.1 919 2286.4 914.3 2288.3 920.5 C2289.2 923.4 2287.5 925.8 2286.9 928.7 C2286.1 932.8 2285.1 936.4 2284.1 939.9 L2267.2 939.9Z M2358.7 824.5 C2361.4 824.8 2363.6 825.7 2365.8 827.3 C2368.7 829.5 2368.8 833.2 2371.4 835.8 C2374 838.4 2376.5 839.9 2379.8 841.4 C2383.2 843 2387.3 841.4 2389.7 844.2 C2391.4 846.3 2391.2 848.7 2391.7 851.3 C2393 858.2 2391.1 863.9 2390.5 871 C2389.9 879.1 2390 885.5 2388.3 893.5 C2387.1 898.7 2379 905.9 2384.1 907.6 C2386.5 908.4 2388.6 905.5 2391.1 906.2 C2394.6 907.2 2396.5 911 2396.7 914.6 C2397 918.7 2392.6 920.7 2391.1 924.5 C2389 929.7 2388.6 934.8 2388.3 939.9 L2365.8 939.9 C2368.3 935.1 2370.9 930.3 2372.8 924.5 C2374.1 920.5 2375.5 917.4 2375.6 913.2 C2375.7 909.6 2376.3 906.2 2374.2 903.3 C2372.5 901 2369.1 901.4 2367.2 899.1 C2363.9 895.2 2365.7 890.1 2365.8 885 C2365.8 878.9 2367.5 874.3 2368 868.2 C2368.3 864.9 2370.5 861.8 2368.6 859.1 C2367.2 857.3 2365.2 856.7 2362.9 856.3 C2359.9 855.8 2357.2 856.8 2354.5 858.3 C2351.1 860.2 2349.7 863.5 2347.5 866.7 C2345.1 870.1 2345.1 874.2 2341.8 876.6 C2339.3 878.5 2335.7 877.1 2333.4 879.4 C2331.1 881.7 2331.3 884.7 2330.6 887.9 C2329.1 893.8 2329.1 898.7 2329.2 904.8 C2329.2 909.8 2330.5 913.7 2330.6 918.8 C2330.7 926.5 2329.7 933.2 2328.6 939.9 L2319.3 939.9 C2322.9 930.6 2326.5 921.2 2319.3 917.4 C2317 916.2 2314.9 916.2 2312.3 916 C2307.1 915.7 2302.2 922.1 2298.2 918.8 C2295.7 916.8 2295.4 913.6 2294.8 910.4 C2294.1 906.4 2294.7 903.1 2295.4 899.1 C2296.2 894.4 2297.5 890.8 2299.6 886.5 C2302 881.5 2304.3 877.7 2308.1 873.8 C2311.6 870.1 2314.6 867.1 2319.3 865.3 C2323.6 863.7 2328.2 866.6 2332 863.9 C2336.1 861.1 2336.1 856 2337.6 851.3 C2339.2 846.3 2338.1 841.8 2340.4 837.2 C2342.2 833.5 2344.1 830.6 2347.5 828.2 C2350.9 825.7 2354.5 824 2358.7 824.5Z M2436.1 828.7 C2441.1 827.7 2447.3 825.1 2450.2 829.3 C2451.6 831.3 2451.5 833.4 2451.6 835.8 C2451.8 841.2 2448.3 844.9 2446 849.9 C2443.7 854.6 2442 858.3 2439 862.5 C2436.3 866.3 2434 869.3 2430.5 872.4 C2426.9 875.5 2424 879.1 2419.2 879.4 C2417.4 879.5 2415.7 879.9 2414.2 878.9 C2410.8 876.6 2419 873.3 2420.7 869.6 C2422.5 865.3 2422.6 861.5 2422.9 856.9 C2423.2 851.8 2421 847.8 2422.1 842.8 C2422.8 839 2423.6 835.7 2426.3 833 C2429 830.2 2432.4 829.6 2436.1 828.7Z M2420.7 939.9 C2414.8 924.7 2409 909.4 2420.7 903.3 C2422.6 902.3 2424.2 902 2426.3 901.4 C2430.2 900.2 2433.6 900.3 2437.5 899.1 C2439.9 898.4 2441.6 896.6 2444 896.9 C2449.9 897.4 2442.9 907.3 2442.3 913.2 C2441.3 922.8 2440.4 931.4 2439.5 939.9 L2420.7 939.9Z M2495.3 833.8 C2499.3 834 2501.1 838.3 2503.7 841.4 C2507.8 846.2 2509.4 851.1 2512.1 856.9 C2515.8 864.7 2517.7 871.3 2520.6 879.4 C2523.8 888.5 2525.1 896 2529 904.8 C2530.9 908.9 2531.1 913.2 2534.7 916 C2538 918.6 2542.7 916.2 2545.9 918.8 C2551.8 923.6 2548.9 931.8 2545.9 939.9 L2526.8 939.9 C2525.9 933.1 2525 926.3 2522.8 918.8 C2521 912.6 2519.4 907.7 2516.4 901.9 C2513.8 897.1 2512.5 892.3 2507.9 889.3 C2505.6 887.8 2503.6 886.7 2500.9 886.5 C2496.5 886.1 2492.5 887.9 2489.6 891.2 C2487.6 893.6 2487.1 896.1 2486.3 899.1 C2484.6 905 2486 909.9 2486.3 916 C2486.5 924.7 2487.4 932.3 2488.2 939.9 L2477.8 939.9 C2476.8 932.3 2475.9 924.6 2475 916 C2474.3 908.9 2474.7 903.3 2473.3 896.3 C2471.9 889 2467.3 884 2467.1 876.6 C2467 872.5 2467.3 869.3 2468.5 865.3 C2470.2 859.7 2473.6 856.1 2477 851.3 C2480.2 846.5 2482.3 842.2 2486.8 838.6 C2489.6 836.4 2491.8 833.6 2495.3 833.8Z M2543.1 854.1 C2538.7 855.1 2535.2 859.4 2535.2 863.9 C2535.2 868.5 2538.7 872.8 2543.1 873.8 C2550 875.3 2550 852.5 2543.1 854.1Z" fill="#fff" stroke="#231f20" stroke-width="3.6" stroke-linejoin="round"/>
<ellipse cx="2148.4" cy="809.6" rx="8" ry="8.6" fill="#fff" stroke="#231f20" stroke-width="3.6"/>
<ellipse cx="2326.3" cy="813.8" rx="8.4" ry="8.6" fill="#fff" stroke="#231f20" stroke-width="3.6"/>
<ellipse cx="2287.8" cy="828.2" rx="8" ry="12.7" fill="#fff" stroke="#231f20" stroke-width="3.6" transform="rotate(-20 2287.8 828.2)"/>
<path d="M1989.1 625.9 L1999 621.8 L2017.4 621.8 L2027.4 625.9 L2027.4 681.1 L2017.4 685.2 L1999 685.2 L1989.1 681.1Z" fill="#b59884" stroke="#000" stroke-width="3.4" stroke-linejoin="round"/>
<path d="M2186.2 616.7 L2196.1 612.5 L2214.5 612.5 L2224.4 616.7 L2224.4 671.8 L2214.5 675.9 L2196.1 675.9 L2186.2 671.8Z" fill="#b59884" stroke="#000" stroke-width="3.4" stroke-linejoin="round"/>
<path d="M2361.8 620.3 L2371.6 616.2 L2389.7 616.2 L2399.5 620.3 L2399.5 675.4 L2389.7 679.5 L2371.6 679.5 L2361.8 675.4Z" fill="#b59884" stroke="#000" stroke-width="3.4" stroke-linejoin="round" transform="rotate(1.5 2380.7 647.9)"/>
<path d="M1915.9 732.9 L1925.6 728.8 L1943.6 728.8 L1953.3 732.9 L1953.3 788 L1943.6 792.1 L1925.6 792.1 L1915.9 788Z" fill="#b59884" stroke="#000" stroke-width="3.4" stroke-linejoin="round"/>
<path d="M2074.4 725.9 L2084.4 721.8 L2102.9 721.8 L2113 725.9 L2113 781 L2102.9 785.1 L2084.4 785.1 L2074.4 781Z" fill="#b59884" stroke="#000" stroke-width="3.4" stroke-linejoin="round"/>
<path d="M2261 714.1 L2270.8 709.9 L2289 709.9 L2298.8 714.1 L2298.8 769.7 L2289 773.8 L2270.8 773.8 L2261 769.7Z" fill="#b59884" stroke="#000" stroke-width="3.4" stroke-linejoin="round"/>
<path d="M2448.8 699.2 L2458.7 695 L2476.9 695 L2486.8 699.2 L2486.8 754.8 L2476.9 758.9 L2458.7 758.9 L2448.8 754.8Z" fill="#b59884" stroke="#000" stroke-width="3.4" stroke-linejoin="round"/>
<path d="M2524.8 742.2 L2534.7 738.1 L2552.9 738.1 L2562.8 742.2 L2562.8 797.8 L2552.9 802 L2534.7 802 L2524.8 797.8Z" fill="#b59884" stroke="#000" stroke-width="3.4" stroke-linejoin="round"/>
</g>
<rect x="1906.3" y="108.2" width="635.4" height="827" fill="none" stroke="#000" stroke-width="3.4"/>
<line x1="2639.1" y1="160" x2="2639.1" y2="882" stroke="#231f20" stroke-width="3.6"/>
<path d="M2639.1 108.4 L2623.5 165.6 L2654.7 165.6Z" fill="#231f20"/>
<path d="M2639.1 933.8 L2623.5 877.4 L2654.7 877.4Z" fill="#231f20"/>
<line x1="2619.3" y1="591.5" x2="2658.1" y2="591.5" stroke="#231f20" stroke-width="3.6"/>
<line x1="2619.3" y1="785.6" x2="2658.1" y2="785.6" stroke="#231f20" stroke-width="3.6"/>
<text x="2707" y="378.1" font-size="57" fill="#000" text-anchor="start" >(i)</text>
<text x="2810.7" y="378.1" font-size="57" fill="#000" text-anchor="start" >Cartilage, tendon,</text>
<text x="2811.5" y="463.1" font-size="57" fill="#000" text-anchor="start" >or ligament</text>
<text x="2707" y="695.6" font-size="57" fill="#000" text-anchor="start" >(ii)</text>
<text x="2810.7" y="695.6" font-size="57" fill="#000" text-anchor="start" >Calcified interface</text>
<text x="2707" y="892.2" font-size="57" fill="#000" text-anchor="start" >(iii)</text>
<text x="2811.7" y="892.2" font-size="57" fill="#000" text-anchor="start" >Bone</text>
</g>
<g id="panel_c">
<rect x="65" y="1819.1" width="1022.8" height="156.2" fill="#444444"/>
<path d="M264.8 1311.6 L451.7 1311.6 L451.7 1569.6 A91 91 0 0 0 542.7 1660.6 L1014.6 1660.6 L1014.6 1818.2 L395.8 1818.2 A131 131 0 0 1 264.8 1687.2 Z" fill="#dddce5" stroke="#000" stroke-width="3.5"/>
<line x1="331" y1="1200" x2="331" y2="1262.1" stroke="#111" stroke-width="3.2"/>
<path d="M331 1148.8 L315.9 1205.7 L346.1 1205.7Z" fill="#111"/>
<line x1="391.1" y1="1145.1" x2="391.1" y2="1206" stroke="#111" stroke-width="3.2"/>
<path d="M391.1 1258.9 L376 1202 L406.2 1202Z" fill="#111"/>
<circle cx="448.5" cy="1205.7" r="4.8" fill="#231f20"/>
<circle cx="468.8" cy="1205.7" r="4.8" fill="#231f20"/>
<circle cx="489.6" cy="1205.7" r="4.8" fill="#231f20"/>
<circle cx="516.9" cy="1205.7" r="4.8" fill="#231f20"/>
<circle cx="537.3" cy="1205.7" r="4.8" fill="#231f20"/>
<circle cx="558.5" cy="1205.7" r="4.8" fill="#231f20"/>
<path d="M1135.2 1148.9 H1757 V1975.7" fill="none" stroke="#4b4b4b" stroke-width="3.6" stroke-dasharray="17.7 18" stroke-dashoffset="25.2" stroke-linejoin="round"/><path d="M1135.2 1148.9 V1975.7 H1757" fill="none" stroke="#4b4b4b" stroke-width="3.6" stroke-dasharray="17.7 18" stroke-dashoffset="28.2" stroke-linejoin="round"/>
<text x="708.5" y="1764.1" font-size="57" fill="#000" text-anchor="start" >Hydrogel</text>
<text x="522.5" y="1919.8" font-size="57" fill="#fff" text-anchor="start" >Substrate</text>
<g fill="none" stroke="#000" stroke-opacity="0.72" stroke-width="3.1" stroke-dasharray="17.7 17.95">
<circle cx="390.6" cy="1822.1" r="56.7"/>
<line x1="347.3" y1="1784.2" x2="1135" y2="1146.5"/>
<line x1="389.5" y1="1878.9" x2="1135.3" y2="1972"/>
</g>
<clipPath id="c1clip"><circle cx="1522" cy="1357.4" r="193.8"/></clipPath>
<circle cx="1522" cy="1357.4" r="193.8" fill="#73a5cc"/>
<g clip-path="url(#c1clip)" fill="#dddce5" stroke="#000" stroke-width="3.5">
<ellipse cx="1478" cy="1195.1" rx="55" ry="38.3" transform="rotate(61 1478 1195.1)"/>
<ellipse cx="1629.9" cy="1225.4" rx="56.5" ry="31.8" transform="rotate(1 1629.9 1225.4)"/>
<ellipse cx="1382.6" cy="1292.8" rx="40.6" ry="60.1" transform="rotate(-2 1382.6 1292.8)"/>
<ellipse cx="1547.7" cy="1331.9" rx="77.4" ry="48.6" transform="rotate(-3 1547.7 1331.9)"/>
<ellipse cx="1379.7" cy="1436.4" rx="58.9" ry="39.7" transform="rotate(65.6 1379.7 1436.4)"/>
<ellipse cx="1522.4" cy="1485" rx="61.8" ry="35.3" transform="rotate(-49.3 1522.4 1485)"/>
<ellipse cx="1681.4" cy="1437.9" rx="54.5" ry="48.6" transform="rotate(-20 1681.4 1437.9)"/>
</g>
<circle cx="1522" cy="1357.4" r="193.8" fill="none" stroke="#231f20" stroke-width="3.1"/>
<circle cx="1353.2" cy="1441.5" r="21.4" fill="#fff"/>
<line x1="1276.6" y1="1496.8" x2="1332.6" y2="1457.1" stroke="#000" stroke-width="6.2"/>
<line x1="1323.7" y1="1445.3" x2="1339.9" y2="1467.4" stroke="#000" stroke-width="3.6"/>
<clipPath id="c2clip"><circle cx="1522" cy="1773" r="193.8"/></clipPath>
<circle cx="1522" cy="1773" r="193.8" fill="#73a5cc"/>
<g clip-path="url(#c2clip)" fill="#dddce5" stroke="#000" stroke-width="3.5">
<ellipse cx="1490" cy="1579.7" rx="39.7" ry="46.2" transform="rotate(-15 1490 1579.7)"/>
<ellipse cx="1628.4" cy="1616.5" rx="51.5" ry="28" transform="rotate(12 1628.4 1616.5)"/>
<ellipse cx="1403.2" cy="1692.2" rx="58" ry="40.6" transform="rotate(5 1403.2 1692.2)"/>
<ellipse cx="1587.2" cy="1728.4" rx="65.6" ry="37.7" transform="rotate(-3 1587.2 1728.4)"/>
<ellipse cx="1362" cy="1819.7" rx="63.3" ry="45.6" transform="rotate(0 1362 1819.7)"/>
<ellipse cx="1536.3" cy="1827" rx="59.8" ry="35.3" transform="rotate(0 1536.3 1827)"/>
<ellipse cx="1700.5" cy="1816.7" rx="60.9" ry="36.2" transform="rotate(-5 1700.5 1816.7)"/>
</g>
<circle cx="1522" cy="1773" r="193.8" fill="none" stroke="#231f20" stroke-width="3.1"/>
<ellipse cx="1350.2" cy="1827" rx="28" ry="26.5" fill="#fff"/>
<g clip-path="url(#c2clip)"><rect x="1300" y="1829.1" width="450" height="200" fill="#444444"/></g>
<path d="M1707.5 1829.1 A193.8 193.8 0 0 1 1336.5 1829.1" fill="none" stroke="#1a1a1a" stroke-width="3.4"/>
<line x1="1251.6" y1="1815.8" x2="1319.3" y2="1826.1" stroke="#000" stroke-width="6.4"/>
<line x1="1320.8" y1="1812.3" x2="1317.2" y2="1838.8" stroke="#000" stroke-width="4"/>
<text x="1251.3" y="1578.6" font-size="57" fill="#000" text-anchor="middle" >Pinned</text>
<text x="1251.3" y="1646.8" font-size="57" fill="#000" text-anchor="middle" >cracks</text>
</g>
<g id="panel_d">
<clipPath id="dclip"><rect x="1906.3" y="1147.7" width="635.4" height="828.1"/></clipPath>
<rect x="1906.3" y="1147.7" width="635.4" height="828.1" fill="#73a5cc"/>
<g clip-path="url(#dclip)">
<path d="M2288.8 1448.2 C2284.3 1449.4 2279.8 1450.6 2275.7 1453.7 C2269.2 1458.7 2268 1466.1 2264.4 1473.4 C2260.1 1482.3 2257.1 1489.3 2254.6 1498.8 C2252.1 1507.7 2250.3 1514.9 2250.3 1524.1 C2250.4 1531.3 2251.6 1536.8 2253.2 1543.8 C2254 1547.6 2254.8 1550.4 2256 1554.1 C2257.7 1559.3 2260 1562.9 2261.6 1568.2 C2262.5 1571.2 2263.2 1573.9 2263.9 1576.6 M2426 1472.6 C2431.1 1471.4 2436.1 1470.1 2441.8 1470.6 C2445.9 1471 2449.7 1471 2453 1473.4 C2456 1475.6 2457.1 1478.6 2458.7 1481.9 C2460.8 1486.6 2460.2 1491 2461.5 1496 C2463.7 1504.3 2466.5 1510.6 2469.9 1518.5 C2473.5 1526.8 2476 1533.6 2481.2 1541 C2485.5 1547.3 2491.3 1550.4 2495.3 1556.9 C2498.7 1562.5 2501.6 1567.2 2502.3 1573.8 C2502.9 1579.9 2501.2 1585.3 2499.5 1590.7 M2116.6 1511.4 C2107.1 1515.3 2097.5 1519.2 2087.1 1524.1 C2080.9 1527 2075.5 1528.3 2070.2 1532.6 C2066 1536 2062.4 1538.9 2060.3 1543.8 C2058.3 1548.5 2056.2 1553.6 2058.9 1557.9 C2060.3 1560.1 2062.5 1560.9 2064.5 1562.5 C2070.3 1567 2074.8 1570.8 2081.4 1573.8 C2090.8 1578 2099.3 1577.7 2109.6 1578.8 C2119.7 1579.9 2127.8 1577.8 2137.7 1580 C2143.5 1581.2 2151.2 1579.5 2153.2 1585 C2154.5 1588.4 2153.3 1591.6 2151.8 1594.9 C2149.2 1600.5 2142.6 1600.9 2137.7 1604.7 C2132.9 1608.5 2128.4 1610.9 2125.1 1616 C2123 1619.2 2119.5 1622.3 2120.8 1625.9 C2121.8 1628.3 2124.1 1629.4 2126.5 1630.6 C2131 1633 2135.5 1631.6 2140.5 1631.5 C2146.3 1631.4 2151.4 1630.6 2156.4 1629.7 M1971.5 1549.4 C1968.4 1555.6 1965.2 1561.9 1960.4 1568.2 C1955.1 1575 1950 1579.5 1943.5 1585 C1936.8 1590.7 1929.8 1592.8 1923.8 1599.1 C1920.3 1602.8 1916.1 1605.4 1915.3 1610.4 C1914.7 1614.5 1916.2 1618 1918.2 1621.6 C1922.2 1629.2 1930.4 1631.5 1938.7 1633.8 M1971.3 1262.5 C1990.3 1265.6 2009.3 1268.8 2030.8 1272.2 C2051 1275.3 2066.6 1280.3 2087.1 1280.6 C2097.2 1280.8 2105.3 1281.4 2115.2 1279.2 C2121.5 1277.8 2126.6 1276.9 2132.1 1273.6 C2140.1 1268.8 2143 1261 2149 1253.9 C2156.2 1245.3 2160.9 1238 2168.7 1229.9 C2174.4 1224 2178.2 1218.2 2185.6 1214.5 C2192.3 1211 2199.2 1210.4 2206 1209.8 M2142 1221.8 C2148.1 1223.8 2154.3 1225.9 2160.3 1229.9 C2167.7 1235 2171.2 1241.5 2177.1 1248.2 C2183.4 1255.2 2187.2 1261.6 2194 1267.9 C2198.8 1272.4 2202.2 1276.5 2208.1 1279.2 C2214.7 1282.1 2220.7 1282 2227.8 1282 C2238.2 1282.1 2246 1279.3 2256 1276.4 C2268.6 1272.7 2277.8 1267.9 2289.8 1262.3 C2303.3 1255.9 2313.2 1249.7 2326.3 1242.6 C2341.5 1234.5 2353.2 1227.8 2368.6 1220.1 C2383.6 1212.6 2394.8 1205.3 2410.8 1200.4 C2425.5 1195.9 2437.6 1193.4 2453 1193.3 C2463.2 1193.3 2471.6 1192.6 2481.2 1196.2 C2490.4 1199.6 2497.2 1204.3 2503.7 1211.6 C2511.9 1220.8 2513.7 1231 2517.8 1242.6 C2521.9 1254.4 2524.2 1264 2526.2 1276.4 C2528.2 1288.4 2528 1298 2529 1310.2 C2530.1 1322.3 2530.1 1331.9 2531.9 1344 C2533.3 1354.2 2534.3 1362.3 2537.5 1372.1 C2539.2 1377.3 2541.2 1381.7 2543.1 1386.2 M2405.2 1146.9 C2400.9 1153.4 2396.7 1159.9 2391.1 1166.6 C2383.8 1175.4 2376.6 1180.9 2368.6 1189.1 C2360.1 1197.8 2352.8 1205.6 2345.4 1213.4 M2503.7 1146.9 C2505.1 1153.2 2506.5 1159.4 2506.5 1166.6 C2506.5 1182.6 2499 1194.2 2492.4 1208.8 C2486.1 1223 2478.5 1234.6 2471 1246.2 M2004 1201.4 C1989.5 1204.2 1975 1207 1960.4 1214.5 C1949.4 1220.1 1941 1225.4 1932.2 1234.2 C1925.1 1241.3 1919.7 1247.5 1915.3 1256.7 C1910.8 1266.1 1908.9 1274.4 1908.3 1284.8 C1907.6 1298.2 1911 1308.7 1915.3 1321.4 C1919.7 1334.3 1926 1343.1 1932.2 1355.2 C1939.1 1368.5 1944.3 1378.9 1951.9 1391.8 C1956.8 1400 1959.6 1407.2 1966 1414.3 C1971.3 1420.2 1975.6 1425.4 1982.9 1428.4 C1988.1 1430.6 1993.5 1434.2 1998.4 1431.2 C2002.3 1428.9 2003.6 1424.5 2004 1420 C2004.4 1415.8 2003.5 1412.2 2001.2 1408.7 C1998.4 1404.4 1993.8 1402.6 1989.3 1400.7 M2159.6 1296.4 C2151.5 1296.7 2143.3 1297.1 2134.9 1300.3 C2128.3 1302.8 2122.4 1304.6 2118 1310.2 C2114.1 1315.2 2113.9 1320.8 2112.4 1327.1 C2110 1337 2110.6 1345.1 2109.6 1355.2 C2108.6 1365.3 2108 1373.3 2106.8 1383.4 C2105.5 1393.5 2104.4 1401.4 2102.5 1411.5 C2101.2 1418.6 2101.1 1424.5 2098.3 1431.2 C2096.1 1436.7 2093 1440.3 2089.9 1445.3 C2086.3 1451.1 2082.9 1456 2079.5 1461 M2267.2 1304.5 C2268.7 1299.9 2270.2 1295.2 2272.9 1290.5 C2275.4 1286.1 2277.4 1282.5 2281.3 1279.2 C2286.4 1275 2291.9 1274.1 2298.2 1272.2 C2308.9 1268.8 2317.9 1267.3 2329.2 1267.9 C2335.3 1268.3 2340.3 1268.6 2346.1 1270.8 C2352.9 1273.3 2357.6 1277 2362.9 1282 C2369.3 1288 2372.8 1294.1 2377 1301.7 C2380.8 1308.5 2383.5 1314 2385.5 1321.4 C2388 1331.3 2386 1339.5 2386.9 1349.6 C2387.6 1357.7 2387.5 1364.2 2389.7 1372.1 C2391.5 1378.4 2392.3 1384.1 2396.7 1389 C2400.7 1393.4 2405 1396.2 2410.8 1397.4 C2414.8 1398.3 2418.4 1399.2 2422.1 1397.4 C2425.6 1395.7 2427.4 1392.6 2429.1 1389 C2430.5 1385.9 2430.9 1382.9 2431.2 1379.8 M2281.2 1364.6 C2287.2 1364.4 2293.2 1364.2 2298.2 1367.9 C2301.7 1370.5 2304.6 1373.4 2305.2 1377.7 C2306.1 1383.3 2301.4 1387.2 2298.2 1391.8 C2294.1 1397.7 2289.5 1401.1 2284.1 1405.9 C2279.3 1410.2 2274.3 1412.2 2270 1417.1 C2266.2 1421.6 2264.5 1426 2261.6 1431.2 C2258.3 1437.2 2255.5 1441.7 2253.2 1448.1 C2250.8 1454.4 2249.7 1460.3 2248.6 1466.2 M2426 1472.6 C2428.9 1482.7 2431.8 1492.7 2439 1501.6 C2446.7 1511.2 2456.7 1514.6 2467.1 1521.3 C2477 1527.7 2484.5 1533.2 2495.3 1538.2 C2505 1542.7 2512.8 1546.2 2523.4 1548.1 C2530.4 1549.3 2536.8 1549.4 2543.1 1549.5 M2295.6 1638.5 C2298.4 1636.9 2301.2 1635.3 2303.8 1632.9 C2307.6 1629.5 2309.1 1625.6 2312.3 1621.6 C2316.1 1616.9 2318.1 1611.7 2323.5 1609 C2329 1606.2 2334.3 1607.9 2340.4 1607.6 C2349.3 1607.1 2357.2 1607.1 2365.2 1607.1 M2295.6 1638.5 C2295.4 1645.1 2295.2 1651.7 2298.2 1658.2 C2303.3 1669.5 2315.5 1672 2326.3 1677.9 C2340.6 1685.7 2353 1689.1 2368.6 1693.4 C2388.4 1699 2404.5 1700.7 2424.9 1703.3 C2445.1 1705.8 2460.9 1706.4 2481.2 1707.5 C2503.5 1708.7 2523.3 1709.1 2543.1 1709.5 M2497 1652.5 C2501.4 1656.7 2505.9 1660.9 2509.3 1666.7 C2513.2 1673.1 2515 1679 2516.4 1686.4 C2517.8 1694.4 2517.5 1700.9 2516.4 1708.9 C2514.8 1719.5 2510.9 1727.3 2506.5 1737.1 C2502.2 1746.6 2496.8 1752.9 2492.4 1762.4 C2488.9 1770.3 2484.9 1776.3 2484 1784.9 C2483.4 1791 2483.3 1796.1 2485.4 1801.8 C2487.5 1807.6 2490.9 1811.5 2495.3 1815.9 C2498.8 1819.5 2504.3 1819.8 2506.5 1824.3 C2507.9 1827.1 2508.6 1829.8 2507.9 1832.8 C2507.1 1836.6 2504.3 1839.2 2500.9 1841.2 C2497 1843.5 2492.7 1843.2 2488.4 1842.8 M2069.9 1680.8 L2061.8 1702.7 M2172.9 1677.9 C2163.6 1683.2 2154.3 1688.4 2143.4 1693.4 C2133.4 1698 2125.5 1700.9 2115.2 1704.7 C2109.2 1706.9 2103.7 1708.8 2098.3 1710.6 M1932.2 1692 C1939.7 1700.8 1947.2 1709.6 1954.7 1720.2 C1962.4 1730.9 1967.9 1739.6 1974.5 1751.1 C1981.2 1763 1985.3 1772.8 1991.3 1784.9 C1996.4 1795.1 2000.2 1803 2005.4 1813.1 C2009.9 1821.7 2014 1829.4 2018.1 1837 M2039.2 1752.5 C2031.8 1755.3 2024.4 1758 2016.7 1762.4 C2007.9 1767.4 2001.7 1772.5 1994.2 1779.3 C1985.1 1787.5 1979.2 1795.1 1971.6 1804.6 C1964 1814.3 1958.7 1822.4 1951.9 1832.8 C1945.5 1842.7 1940.9 1850.7 1935 1860.9 C1929.8 1870 1927 1877.7 1921 1886.3 C1916.4 1892.7 1911.6 1897.9 1906.9 1903.2 M2065.9 1762.4 C2064.5 1770.5 2063.2 1778.6 2062.3 1787.7 C2061.5 1795.8 2060.8 1802.1 2061.2 1810.3 C2061.4 1816.4 2062.1 1821.1 2063.1 1827.1 C2063.7 1830.7 2064.4 1833.9 2065.1 1837 M2165 1796.5 C2167.9 1798.3 2170.9 1800 2174.3 1801.8 C2177.3 1803.4 2180.5 1803.5 2182.8 1806 C2185 1808.5 2186.7 1811.2 2186.2 1814.5 C2185.8 1816.8 2184.7 1818.7 2182.8 1820.1 C2179.5 1822.5 2175.6 1819.5 2171.5 1819.3 C2167.5 1819 2164.1 1817.6 2160.3 1818.7 C2156.7 1819.7 2154.7 1822 2151.8 1824.3 C2148.5 1827 2146.9 1830.3 2143.4 1832.8 C2138.9 1836 2134.6 1837.4 2129.3 1839 C2123.4 1840.7 2118.5 1840.9 2112.4 1841.2 C2103.3 1841.8 2095.3 1840.9 2087.2 1840 M2087.2 1840 C2094.1 1844.3 2101 1848.7 2109.6 1851.9 C2115.5 1854.2 2120.6 1854.3 2126.5 1856.7 C2133 1859.4 2137.3 1862.9 2143.4 1866.6 C2147.4 1869 2151 1871.3 2154.6 1873.6 M1904.1 1848.3 C1908.1 1849.5 1912.1 1850.7 1915.3 1853.9 C1918.3 1856.7 1919.5 1859.9 1921 1863.7 C1922.9 1868.5 1922.6 1872.8 1923.8 1877.8 C1924.7 1881.9 1924 1885.8 1926.6 1889.1 C1929.4 1892.7 1933.6 1893.2 1937.9 1894.7 C1945.5 1897.4 1952.8 1897.5 1960.2 1897.6 M2282.5 1736.4 C2276.9 1740.5 2271.2 1744.6 2267.2 1751.1 C2263.9 1756.6 2261.9 1761.6 2261.6 1768 C2261.3 1775.4 2263.6 1781.3 2267.2 1787.7 C2271.4 1795.2 2277.7 1798.9 2284.1 1804.6 C2289 1808.9 2293.8 1811.1 2298.2 1815.9 C2302.4 1820.4 2307.3 1823.8 2308.1 1830 C2308.5 1833.5 2308.9 1837 2306.6 1839.8 C2304.9 1842 2302.4 1842.8 2299.6 1843.5 C2295.7 1844.4 2292 1843.3 2288.4 1842.2 M2420.1 1759.4 C2423.2 1765 2426.4 1770.6 2430.5 1776.5 C2433.8 1781.2 2440.6 1783.4 2440.4 1789.1 C2440.2 1793.2 2437.6 1796.1 2434.7 1799 C2429.2 1804.6 2421.3 1803 2413.6 1804.6 C2402.6 1807 2393.8 1807.1 2382.7 1808.8 C2371.5 1810.6 2362.3 1810.6 2351.7 1814.5 C2344.2 1817.2 2336.7 1818 2332 1824.3 C2328.8 1828.6 2328 1833.1 2327.2 1838.4 C2326.1 1845.4 2327.1 1851.2 2328.6 1858.1 C2330 1864.4 2331.6 1869.4 2334.8 1875 C2338 1880.7 2341.4 1884.6 2346.1 1889.1 C2351 1893.9 2356.2 1897.1 2361.4 1900.4" fill="none" stroke="#444444" stroke-width="3.4" stroke-linecap="butt"/>
<path d="M2004 1201.4 L2129.5 1165.4 C2131.3 1164.9 2133.3 1166 2133.8 1167.8 L2135.8 1175 C2136.4 1176.8 2135.3 1178.8 2133.4 1179.3 L2004.6 1216.2 C2002.8 1216.8 2001.7 1218.7 2002.2 1220.6 L2004.3 1227.7 C2004.8 1229.5 2006.7 1230.6 2008.6 1230.1 L2137.4 1193.1 C2139.3 1192.6 2141.2 1193.7 2141.7 1195.5 L2143.8 1202.6 C2144.3 1204.5 2143.2 1206.4 2141.4 1207 L2012.6 1243.9 C2010.7 1244.4 2009.6 1246.4 2010.2 1248.2 L2012.2 1255.4 C2012.7 1257.2 2014.7 1258.3 2016.5 1257.8 L2142 1221.8" fill="none" stroke="#dddce5" stroke-width="7" stroke-linejoin="round"/>
<path d="M2206 1209.8 L2326.2 1159 C2328 1158.2 2330 1159.1 2330.8 1160.9 L2333.7 1167.7 C2334.4 1169.5 2333.6 1171.5 2331.8 1172.3 L2208.4 1224.4 C2206.6 1225.2 2205.8 1227.2 2206.5 1229 L2209.4 1235.8 C2210.1 1237.6 2212.2 1238.4 2214 1237.7 L2337.4 1185.5 C2339.2 1184.8 2341.3 1185.6 2342 1187.4 L2344.9 1194.2 C2345.6 1196 2344.8 1198 2343 1198.8 L2219.6 1250.9 C2217.8 1251.7 2217 1253.7 2217.7 1255.5 L2220.6 1262.3 C2221.4 1264.1 2223.4 1265 2225.2 1264.2 L2345.4 1213.4" fill="none" stroke="#dddce5" stroke-width="7" stroke-linejoin="round"/>
<path d="M1971.3 1262.5 L2040.1 1373.4 C2041.1 1375 2040.6 1377.2 2039 1378.2 L2032.7 1382.1 C2031 1383.1 2028.9 1382.6 2027.8 1381 L1957.2 1267.1 C1956.2 1265.4 1954.1 1264.9 1952.4 1265.9 L1946.1 1269.8 C1944.5 1270.9 1944 1273 1945 1274.7 L2015.6 1388.5 C2016.6 1390.2 2016.1 1392.3 2014.5 1393.4 L2008.2 1397.3 C2006.5 1398.3 2004.4 1397.8 2003.4 1396.1 L1932.8 1282.2 C1931.7 1280.6 1929.6 1280.1 1927.9 1281.1 L1921.6 1285 C1920 1286 1919.5 1288.2 1920.5 1289.8 L1989.3 1400.7" fill="none" stroke="#dddce5" stroke-width="7" stroke-linejoin="round"/>
<path d="M2159.6 1296.4 L2289.6 1307.5 C2291.5 1307.7 2293 1309.4 2292.8 1311.3 L2292.2 1318.7 C2292 1320.6 2290.3 1322 2288.4 1321.9 L2154.9 1310.4 C2152.9 1310.3 2151.3 1311.7 2151.1 1313.6 L2150.5 1321 C2150.3 1322.9 2151.7 1324.6 2153.6 1324.8 L2287.2 1336.2 C2289.1 1336.4 2290.5 1338.1 2290.3 1340 L2289.7 1347.4 C2289.5 1349.3 2287.9 1350.7 2285.9 1350.6 L2152.4 1339.1 C2150.5 1339 2148.8 1340.4 2148.6 1342.3 L2148 1349.7 C2147.8 1351.6 2149.3 1353.3 2151.2 1353.5 L2281.2 1364.6" fill="none" stroke="#dddce5" stroke-width="7" stroke-linejoin="round"/>
<path d="M2471 1246.2 L2488.7 1375.5 C2489 1377.4 2487.6 1379.2 2485.7 1379.4 L2478.4 1380.4 C2476.5 1380.7 2474.7 1379.3 2474.5 1377.4 L2456.3 1244.7 C2456 1242.8 2454.2 1241.4 2452.3 1241.7 L2445 1242.7 C2443.1 1242.9 2441.7 1244.7 2442 1246.6 L2460.2 1379.4 C2460.5 1381.3 2459.1 1383.1 2457.2 1383.3 L2449.9 1384.3 C2448 1384.6 2446.2 1383.2 2445.9 1381.3 L2427.7 1248.6 C2427.5 1246.7 2425.7 1245.3 2423.8 1245.6 L2416.5 1246.6 C2414.6 1246.8 2413.2 1248.6 2413.5 1250.5 L2431.2 1379.8" fill="none" stroke="#dddce5" stroke-width="7" stroke-linejoin="round"/>
<path d="M1971.5 1549.4 L2029.4 1432.4 C2030.2 1430.6 2032.3 1429.9 2034.1 1430.8 L2040.7 1434.1 C2042.4 1434.9 2043.1 1437 2042.3 1438.8 L1982.9 1558.9 C1982 1560.6 1982.8 1562.7 1984.5 1563.6 L1991.1 1566.9 C1992.9 1567.7 1995 1567 1995.8 1565.3 L2055.2 1445.1 C2056 1443.4 2058.1 1442.7 2059.9 1443.5 L2066.5 1446.8 C2068.2 1447.7 2069 1449.8 2068.1 1451.5 L2008.7 1571.6 C2007.9 1573.4 2008.6 1575.5 2010.3 1576.3 L2016.9 1579.6 C2018.7 1580.5 2020.8 1579.8 2021.6 1578 L2079.5 1461" fill="none" stroke="#dddce5" stroke-width="7" stroke-linejoin="round"/>
<path d="M2116.6 1511.4 L2211.6 1421.9 C2213 1420.6 2215.2 1420.6 2216.6 1422 L2221.6 1427.4 C2223 1428.8 2222.9 1431 2221.5 1432.4 L2124 1524.3 C2122.6 1525.6 2122.5 1527.8 2123.8 1529.2 L2128.9 1534.6 C2130.2 1536 2132.4 1536.1 2133.8 1534.7 L2231.4 1442.9 C2232.8 1441.5 2235 1441.6 2236.3 1443 L2241.4 1448.4 C2242.7 1449.8 2242.6 1452 2241.2 1453.3 L2143.7 1545.2 C2142.3 1546.6 2142.2 1548.8 2143.6 1550.2 L2148.6 1555.6 C2150 1557 2152.2 1557 2153.6 1555.7 L2248.6 1466.2" fill="none" stroke="#dddce5" stroke-width="7" stroke-linejoin="round"/>
<path d="M2288.8 1448.2 L2415.2 1415.9 C2417.1 1415.5 2419 1416.6 2419.5 1418.5 L2421.3 1425.6 C2421.8 1427.5 2420.6 1429.4 2418.8 1429.9 L2288.9 1463 C2287 1463.5 2285.9 1465.4 2286.4 1467.3 L2288.2 1474.4 C2288.7 1476.3 2290.6 1477.4 2292.5 1476.9 L2422.3 1443.9 C2424.2 1443.4 2426.1 1444.5 2426.6 1446.4 L2428.4 1453.5 C2428.9 1455.4 2427.8 1457.3 2425.9 1457.8 L2296 1490.9 C2294.2 1491.4 2293 1493.3 2293.5 1495.2 L2295.3 1502.3 C2295.8 1504.2 2297.7 1505.3 2299.6 1504.9 L2426 1472.6" fill="none" stroke="#dddce5" stroke-width="7" stroke-linejoin="round"/>
<path d="M1938.7 1633.8 L2068.7 1623.1 C2070.6 1622.9 2072.3 1624.4 2072.5 1626.3 L2073.1 1633.7 C2073.3 1635.6 2071.8 1637.3 2069.9 1637.5 L1936.3 1648.4 C1934.4 1648.6 1933 1650.3 1933.1 1652.2 L1933.8 1659.6 C1933.9 1661.5 1935.6 1662.9 1937.5 1662.8 L2071.1 1651.8 C2073 1651.7 2074.7 1653.1 2074.8 1655 L2075.5 1662.4 C2075.6 1664.3 2074.2 1666 2072.3 1666.2 L1938.7 1677.1 C1936.8 1677.3 1935.3 1679 1935.5 1680.9 L1936.1 1688.3 C1936.3 1690.2 1938 1691.7 1939.9 1691.5 L2069.9 1680.8" fill="none" stroke="#dddce5" stroke-width="7" stroke-linejoin="round"/>
<path d="M2156.4 1629.7 L2278.4 1583.4 C2280.2 1582.7 2282.2 1583.6 2282.9 1585.4 L2285.5 1592.3 C2286.2 1594.1 2285.3 1596.2 2283.5 1596.8 L2158.3 1644.4 C2156.4 1645.1 2155.5 1647.1 2156.2 1648.9 L2158.9 1655.9 C2159.5 1657.7 2161.6 1658.6 2163.4 1657.9 L2288.6 1610.3 C2290.4 1609.6 2292.5 1610.5 2293.1 1612.3 L2295.8 1619.3 C2296.5 1621.1 2295.6 1623.1 2293.7 1623.8 L2168.5 1671.4 C2166.7 1672 2165.8 1674.1 2166.5 1675.9 L2169.1 1682.8 C2169.8 1684.6 2171.8 1685.5 2173.6 1684.8 L2295.6 1638.5" fill="none" stroke="#dddce5" stroke-width="7" stroke-linejoin="round"/>
<path d="M2365.2 1607.1 L2495.1 1594.8 C2497 1594.6 2498.7 1596.1 2498.9 1598 L2499.6 1605.3 C2499.8 1607.3 2498.4 1609 2496.4 1609.2 L2363 1621.8 C2361.1 1622 2359.7 1623.7 2359.9 1625.6 L2360.6 1633 C2360.8 1634.9 2362.5 1636.3 2364.4 1636.1 L2497.8 1623.5 C2499.7 1623.3 2501.4 1624.7 2501.6 1626.6 L2502.3 1634 C2502.5 1635.9 2501.1 1637.6 2499.2 1637.8 L2365.8 1650.4 C2363.8 1650.6 2362.4 1652.3 2362.6 1654.3 L2363.3 1661.6 C2363.5 1663.5 2365.2 1665 2367.1 1664.8 L2497 1652.5" fill="none" stroke="#dddce5" stroke-width="7" stroke-linejoin="round"/>
<path d="M2061.8 1702.7 L2186 1742.8 C2187.8 1743.4 2188.9 1745.4 2188.3 1747.2 L2186 1754.2 C2185.4 1756.1 2183.4 1757.1 2181.6 1756.5 L2054.1 1715.3 C2052.2 1714.7 2050.3 1715.7 2049.7 1717.6 L2047.4 1724.6 C2046.8 1726.4 2047.8 1728.4 2049.6 1729 L2177.2 1770.2 C2179 1770.8 2180 1772.8 2179.4 1774.6 L2177.1 1781.6 C2176.5 1783.5 2174.6 1784.5 2172.7 1783.9 L2045.2 1742.7 C2043.4 1742.1 2041.4 1743.1 2040.8 1745 L2038.5 1752 C2037.9 1753.8 2039 1755.8 2040.8 1756.4 L2165 1796.5" fill="none" stroke="#dddce5" stroke-width="7" stroke-linejoin="round"/>
<path d="M2282.5 1736.4 L2408.6 1702.8 C2410.5 1702.3 2412.4 1703.5 2412.9 1705.3 L2414.8 1712.5 C2415.3 1714.3 2414.2 1716.3 2412.3 1716.8 L2282.9 1751.2 C2281 1751.7 2279.9 1753.6 2280.4 1755.5 L2282.3 1762.6 C2282.8 1764.5 2284.7 1765.6 2286.6 1765.1 L2416 1730.7 C2417.9 1730.2 2419.8 1731.3 2420.3 1733.2 L2422.2 1740.3 C2422.7 1742.2 2421.6 1744.1 2419.7 1744.6 L2290.3 1779 C2288.4 1779.5 2287.3 1781.5 2287.8 1783.3 L2289.7 1790.5 C2290.2 1792.3 2292.1 1793.5 2294 1793 L2420.1 1759.4" fill="none" stroke="#dddce5" stroke-width="7" stroke-linejoin="round"/>
<path d="M2087.2 1840 L1956.7 1840 C1954.8 1840 1953.2 1841.6 1953.2 1843.5 L1953.2 1850.9 C1953.2 1852.8 1954.8 1854.4 1956.7 1854.4 L2090.7 1854.4 C2092.6 1854.4 2094.2 1856 2094.2 1857.9 L2094.2 1865.3 C2094.2 1867.2 2092.6 1868.8 2090.7 1868.8 L1956.7 1868.8 C1954.8 1868.8 1953.2 1870.4 1953.2 1872.3 L1953.2 1879.7 C1953.2 1881.6 1954.8 1883.2 1956.7 1883.2 L2090.7 1883.2 C2092.6 1883.2 2094.2 1884.8 2094.2 1886.7 L2094.2 1894.1 C2094.2 1896 2092.6 1897.6 2090.7 1897.6 L1960.2 1897.6" fill="none" stroke="#dddce5" stroke-width="7" stroke-linejoin="round"/>
<path d="M2288.4 1842.2 L2157.9 1839.9 C2156 1839.9 2154.4 1841.4 2154.4 1843.4 L2154.2 1850.8 C2154.2 1852.7 2155.7 1854.3 2157.7 1854.3 L2291.6 1856.7 C2293.6 1856.7 2295.1 1858.3 2295.1 1860.2 L2295 1867.6 C2294.9 1869.6 2293.3 1871.1 2291.4 1871.1 L2157.4 1868.7 C2155.5 1868.7 2153.9 1870.2 2153.8 1872.2 L2153.7 1879.6 C2153.7 1881.5 2155.2 1883.1 2157.2 1883.1 L2291.1 1885.5 C2293.1 1885.5 2294.6 1887.1 2294.6 1889 L2294.4 1896.4 C2294.4 1898.4 2292.8 1899.9 2290.9 1899.9 L2160.4 1897.6" fill="none" stroke="#dddce5" stroke-width="7" stroke-linejoin="round"/>
<path d="M2488.4 1842.8 L2357.9 1842.8 C2356 1842.8 2354.4 1844.4 2354.4 1846.3 L2354.4 1853.7 C2354.4 1855.6 2356 1857.2 2357.9 1857.2 L2491.9 1857.2 C2493.8 1857.2 2495.4 1858.8 2495.4 1860.7 L2495.4 1868.1 C2495.4 1870 2493.8 1871.6 2491.9 1871.6 L2357.9 1871.6 C2356 1871.6 2354.4 1873.2 2354.4 1875.1 L2354.4 1882.5 C2354.4 1884.4 2356 1886 2357.9 1886 L2491.9 1886 C2493.8 1886 2495.4 1887.6 2495.4 1889.5 L2495.4 1896.9 C2495.4 1898.8 2493.8 1900.4 2491.9 1900.4 L2361.4 1900.4" fill="none" stroke="#dddce5" stroke-width="7" stroke-linejoin="round"/>
<rect x="1906.3" y="1147.7" width="635.4" height="81.4" fill="#fff" fill-opacity="0.8"/>
<rect x="1906.3" y="1903.7" width="635.4" height="72.1" fill="#444444"/>
</g>
<text x="1912.3" y="1203.8" font-size="57" fill="#000" text-anchor="start" >Nanocrystalline hydrogel</text>
<text x="2223.7" y="1955.2" font-size="57" fill="#fff" text-anchor="middle" >Substrate</text>
<rect x="1906.3" y="1147.7" width="635.4" height="828.1" fill="none" stroke="#000" stroke-width="3.4"/>
<g fill="none" stroke="#000" stroke-opacity="0.88" stroke-width="3.2" stroke-dasharray="17.7 17.95">
<rect x="2357.3" y="1861.6" width="149.6" height="63.4" stroke-dashoffset="6"/>
<line x1="2506.9" y1="1861.6" x2="2692" y2="1147" stroke-dashoffset="25.6"/>
<line x1="2506.9" y1="1925" x2="2691.5" y2="1975"/>
</g>
<clipPath id="hclip"><rect x="2692.6" y="1145.7" width="696.6" height="830.3"/></clipPath>
<rect x="2692.6" y="1145.7" width="696.6" height="830.3" fill="#73a5cc"/>
<g clip-path="url(#hclip)">
<rect x="2692.6" y="1202.4" width="696.6" height="87.6" fill="#dddce5"/>
<rect x="2692.6" y="1416.9" width="696.6" height="88.1" fill="#dddce5"/>
<rect x="2692.6" y="1624.6" width="696.6" height="88" fill="#dddce5"/>
<rect x="2692.6" y="1839.8" width="696.6" height="58.4" fill="#dddce5"/>
<path d="M2636.4 1124.8 L2680.4 1147 L2748.8 1157.6 L2792.8 1152.5 L2862.2 1124.8 L2906.2 1147 L2974.6 1157.6 L3018.6 1152.5 L3088 1124.8 L3132 1147 L3200.4 1157.6 L3244.4 1152.5 L3313.8 1124.8 L3357.8 1147 L3426.2 1157.6 L3470.2 1152.5 L3539.6 1124.8 L3583.6 1147 L3652 1157.6 L3696 1152.5 M2748.6 1157.6 L2748.6 1206.2 M2974.4 1157.6 L2974.4 1206.2 M3200.2 1157.6 L3200.2 1206.2 M2636.4 1336.2 L2680.4 1358.4 L2748.8 1369 L2792.8 1363.9 L2862.2 1336.2 L2906.2 1358.4 L2974.6 1369 L3018.6 1363.9 L3088 1336.2 L3132 1358.4 L3200.4 1369 L3244.4 1363.9 L3313.8 1336.2 L3357.8 1358.4 L3426.2 1369 L3470.2 1363.9 L3539.6 1336.2 L3583.6 1358.4 L3652 1369 L3696 1363.9 M2748.6 1369 L2748.6 1417.6 M2974.4 1369 L2974.4 1417.6 M3200.2 1369 L3200.2 1417.6 M2862.2 1336.2 L2862.2 1288 M3088 1336.2 L3088 1288 M3313.8 1336.2 L3313.8 1288 M2636.4 1547.6 L2680.4 1569.8 L2748.8 1580.4 L2792.8 1575.3 L2862.2 1547.6 L2906.2 1569.8 L2974.6 1580.4 L3018.6 1575.3 L3088 1547.6 L3132 1569.8 L3200.4 1580.4 L3244.4 1575.3 L3313.8 1547.6 L3357.8 1569.8 L3426.2 1580.4 L3470.2 1575.3 L3539.6 1547.6 L3583.6 1569.8 L3652 1580.4 L3696 1575.3 M2748.6 1580.4 L2748.6 1629 M2974.4 1580.4 L2974.4 1629 M3200.2 1580.4 L3200.2 1629 M2862.2 1547.6 L2862.2 1499.4 M3088 1547.6 L3088 1499.4 M3313.8 1547.6 L3313.8 1499.4 M2636.4 1759 L2680.4 1781.2 L2748.8 1791.8 L2792.8 1786.7 L2862.2 1759 L2906.2 1781.2 L2974.6 1791.8 L3018.6 1786.7 L3088 1759 L3132 1781.2 L3200.4 1791.8 L3244.4 1786.7 L3313.8 1759 L3357.8 1781.2 L3426.2 1791.8 L3470.2 1786.7 L3539.6 1759 L3583.6 1781.2 L3652 1791.8 L3696 1786.7 M2748.6 1791.8 L2748.6 1840.4 M2974.4 1791.8 L2974.4 1840.4 M3200.2 1791.8 L3200.2 1840.4 M2862.2 1759 L2862.2 1710.8 M3088 1759 L3088 1710.8 M3313.8 1759 L3313.8 1710.8" fill="none" stroke="#231f20" stroke-width="3.5" stroke-linejoin="miter"/>
<g font-size="37.5" fill="#231f20" text-anchor="middle"><text x="2751.4" y="1241.6">O</text><text x="2809.3" y="1257.2">H</text><text x="2864.8" y="1275.8">O</text><text x="2921.8" y="1260.4">H</text><text x="2977.2" y="1241.6">O</text><text x="3035.1" y="1257.2">H</text><text x="3090.6" y="1275.8">O</text><text x="3147.6" y="1260.4">H</text><text x="3203" y="1241.6">O</text><text x="3260.9" y="1257.2">H</text><text x="3316.4" y="1275.8">O</text><text x="3373.4" y="1260.4">H</text><text x="2696" y="1260.4">H</text><text x="2751.4" y="1453">O</text><text x="2809.3" y="1468.6">H</text><text x="2864.8" y="1487.2">O</text><text x="2921.8" y="1471.8">H</text><text x="2977.2" y="1453">O</text><text x="3035.1" y="1468.6">H</text><text x="3090.6" y="1487.2">O</text><text x="3147.6" y="1471.8">H</text><text x="3203" y="1453">O</text><text x="3260.9" y="1468.6">H</text><text x="3316.4" y="1487.2">O</text><text x="3373.4" y="1471.8">H</text><text x="2696" y="1471.8">H</text><text x="2751.4" y="1664.4">O</text><text x="2809.3" y="1680">H</text><text x="2864.8" y="1698.6">O</text><text x="2921.8" y="1683.2">H</text><text x="2977.2" y="1664.4">O</text><text x="3035.1" y="1680">H</text><text x="3090.6" y="1698.6">O</text><text x="3147.6" y="1683.2">H</text><text x="3203" y="1664.4">O</text><text x="3260.9" y="1680">H</text><text x="3316.4" y="1698.6">O</text><text x="3373.4" y="1683.2">H</text><text x="2696" y="1683.2">H</text><text x="2751.4" y="1875.8">O</text><text x="2809.3" y="1891.4">H</text><text x="2977.2" y="1875.8">O</text><text x="3035.1" y="1891.4">H</text><text x="3203" y="1875.8">O</text><text x="3260.9" y="1891.4">H</text></g>
<path d="M2770.2 1232.7 L2790.9 1239.5 M2882.3 1257.5 L2904.6 1250.2 M2996 1232.7 L3016.7 1239.5 M3108.1 1257.5 L3130.4 1250.2 M3221.8 1232.7 L3242.5 1239.5 M3333.9 1257.5 L3356.2 1250.2 M2770.2 1444.1 L2790.9 1450.9 M2882.3 1468.9 L2904.6 1461.6 M2996 1444.1 L3016.7 1450.9 M3108.1 1468.9 L3130.4 1461.6 M3221.8 1444.1 L3242.5 1450.9 M3333.9 1468.9 L3356.2 1461.6 M2770.2 1655.5 L2790.9 1662.3 M2882.3 1680.3 L2904.6 1673 M2996 1655.5 L3016.7 1662.3 M3108.1 1680.3 L3130.4 1673 M3221.8 1655.5 L3242.5 1662.3 M3333.9 1680.3 L3356.2 1673 M2770.2 1866.9 L2790.9 1873.7 M2996 1866.9 L3016.7 1873.7 M3221.8 1866.9 L3242.5 1873.7" fill="none" stroke="#231f20" stroke-width="3.4"/>
<path d="M2826.2 1247.5 L2848.9 1255.2 M2938.1 1242.2 L2961 1234.6 M3052 1247.5 L3074.7 1255.2 M3163.9 1242.2 L3186.8 1234.6 M3277.8 1247.5 L3300.5 1255.2 M3389.7 1242.2 L3412.6 1234.6 M2712.3 1242.2 L2735.2 1234.6 M2826.2 1458.9 L2848.9 1466.6 M2938.1 1453.6 L2961 1446 M3052 1458.9 L3074.7 1466.6 M3163.9 1453.6 L3186.8 1446 M3277.8 1458.9 L3300.5 1466.6 M3389.7 1453.6 L3412.6 1446 M2712.3 1453.6 L2735.2 1446 M2826.2 1670.3 L2848.9 1678 M2938.1 1665 L2961 1657.4 M3052 1670.3 L3074.7 1678 M3163.9 1665 L3186.8 1657.4 M3277.8 1670.3 L3300.5 1678 M3389.7 1665 L3412.6 1657.4 M2712.3 1665 L2735.2 1657.4 M2826.2 1881.7 L2848.9 1889.4 M3052 1881.7 L3074.7 1889.4 M3277.8 1881.7 L3300.5 1889.4" fill="none" stroke="#231f20" stroke-width="3.6" stroke-dasharray="3.2 3.2"/>
<rect x="2692.6" y="1145.7" width="456.2" height="83" fill="#fff" fill-opacity="0.8"/>
<rect x="2692.6" y="1898.2" width="696.6" height="77.8" fill="#444444"/>
</g>
<text x="2706.2" y="1202.1" font-size="57" fill="#000" text-anchor="start" >Hydrogen bonds</text>
<text x="3042.5" y="1955.8" font-size="57" fill="#fff" text-anchor="middle" >Substrate</text>
<rect x="2692.6" y="1145.7" width="696.6" height="830.3" fill="none" stroke="#000" stroke-width="3.6"/>
</g>
<g id="legend">
<rect x="64.2" y="2071.6" width="3325.4" height="148.5" fill="none" stroke="#4f4f51" stroke-width="3.4"/>
<path d="M88.6 2147.1 C102.2 2150.1 115.8 2153.2 131.4 2155 C146.8 2156.8 158.8 2157.1 174.3 2157.1 C189.7 2157.1 201.7 2156.4 217.1 2155 C232.6 2153.6 244.6 2151.5 260 2149.3 C275.5 2147.1 287.4 2144.7 302.9 2142.9 C316.5 2141.3 328.6 2140.5 340.7 2139.6 M94.3 2158.6 C106.1 2161 117.9 2163.3 131.4 2165 C146.8 2166.9 158.8 2167.7 174.3 2167.9 C189.7 2168.1 201.7 2167.7 217.1 2166.4 C232.6 2165.1 244.6 2163.3 260 2160.7 C275.5 2158.1 287.3 2154.4 302.9 2152.1 C316.4 2150.1 328.6 2149.1 340.7 2148.1" fill="none" stroke="#231f20" stroke-width="3.4"/>
<path d="M919.6 2124.6 L928 2120.9 L938.7 2120.9 L947.1 2124.6 L947.1 2164.4 L938.7 2168.1 L928 2168.1 L919.6 2164.4Z" fill="#b59884" stroke="#000" stroke-width="3.2" stroke-linejoin="round"/>
<path d="M952.7 2101.6 L961.1 2097.9 L971.6 2097.9 L980 2101.6 L980 2141.3 L971.6 2145 L961.1 2145 L952.7 2141.3Z" fill="#b59884" stroke="#000" stroke-width="3.2" stroke-linejoin="round"/>
<ellipse cx="1826.9" cy="2132.5" rx="41" ry="26.5" transform="rotate(-57 1826.9 2132.5)" fill="#dddce5" stroke="#111" stroke-width="3.4"/>
<ellipse cx="1895.7" cy="2150" rx="40.2" ry="25.1" transform="rotate(-3 1895.7 2150)" fill="#dddce5" stroke="#111" stroke-width="3.4"/>
<path d="M2701.3 2138 L2775.8 2102.6 C2777.1 2102 2778.6 2102.6 2779.2 2103.9 L2780.5 2106.6 C2781.1 2107.9 2780.6 2109.4 2779.3 2110 L2704.5 2145.6 C2703.2 2146.2 2702.6 2147.7 2703.3 2149 L2704.5 2151.7 C2705.2 2153 2706.7 2153.6 2708 2153 L2782.8 2117.4 C2784.1 2116.8 2785.6 2117.4 2786.3 2118.7 L2787.5 2121.4 C2788.2 2122.7 2787.6 2124.2 2786.3 2124.8 L2711.5 2160.4 C2710.2 2161 2709.7 2162.5 2710.3 2163.8 L2711.6 2166.5 C2712.2 2167.8 2713.7 2168.4 2715 2167.8 L2789.5 2132.4" fill="none" stroke="#a5a1ae" stroke-width="4.8" stroke-linejoin="round"/>
<path d="M2876.2 2136 L2793.2 2134.2 C2791.8 2134.1 2790.6 2135.3 2790.6 2136.7 L2790.5 2140.4 C2790.4 2141.8 2791.6 2143 2793 2143.1 L2876.4 2144.9 C2877.8 2145 2879 2146.2 2878.9 2147.6 L2878.8 2151.3 C2878.8 2152.7 2877.6 2153.9 2876.2 2153.8 L2792.8 2152 C2791.4 2151.9 2790.2 2153.1 2790.2 2154.5 L2790.1 2158.2 C2790 2159.6 2791.2 2160.8 2792.6 2160.9 L2876 2162.7 C2877.4 2162.8 2878.6 2164 2878.5 2165.4 L2878.4 2169.1 C2878.4 2170.5 2877.2 2171.7 2875.8 2171.6 L2792.8 2169.8" fill="none" stroke="#a5a1ae" stroke-width="4.8" stroke-linejoin="round"/>
<text x="366.5" y="2167.3" font-size="57" fill="#000" text-anchor="start" >Collagen nanofibrils</text>
<text x="1012" y="2167.3" font-size="57" fill="#000" text-anchor="start" >Hydroxyapatite nanocrystals</text>
<text x="1968.8" y="2167.3" font-size="57" fill="#000" text-anchor="start" >High-energy nanostructures</text>
<text x="2908.3" y="2167.3" font-size="57" fill="#000" text-anchor="start" >PVA nanocrystals</text>
<text x="26" y="86" font-size="90" fill="#231f20" text-anchor="start" >a</text>
<text x="1832" y="86" font-size="90" fill="#231f20" text-anchor="start" >b</text>
<text x="28.5" y="1131" font-size="90" fill="#231f20" text-anchor="start" >c</text>
<text x="1832" y="1128" font-size="90" fill="#231f20" text-anchor="start" >d</text>
</g>
</svg>
</body></html>
